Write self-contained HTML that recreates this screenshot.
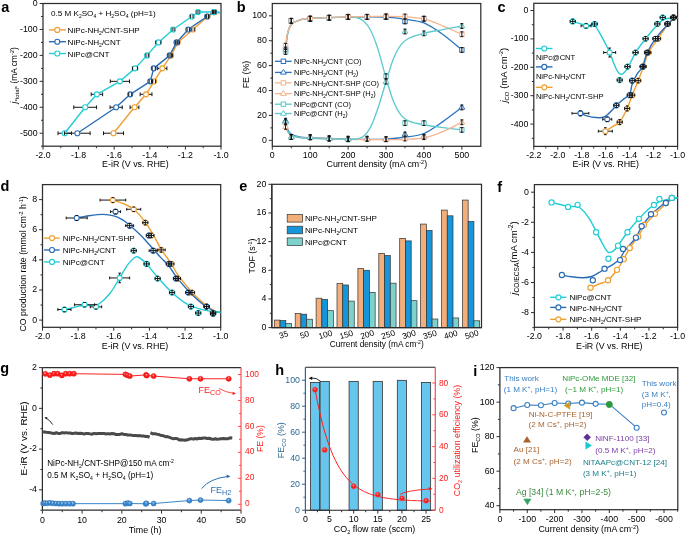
<!DOCTYPE html>
<html><head><meta charset="utf-8"><style>
html,body{margin:0;padding:0;background:#fff;}
svg{display:block;will-change:transform;filter:blur(0.3px);}
text{font-family:"Liberation Sans", sans-serif;}
</style></head><body>
<svg width="685" height="535" viewBox="0 0 685 535">
<rect width="685" height="535" fill="#fff"/>
<text x="1.20" y="12.40" font-size="14.5" text-anchor="start" fill="#000" font-weight="bold">a</text>
<rect x="43.00" y="3.50" width="178.00" height="142.70" fill="none" stroke="#2e2e2e" stroke-width="1.25"/>
<line x1="43.00" y1="146.20" x2="43.00" y2="149.60" stroke="#2e2e2e" stroke-width="1"/>
<line x1="78.60" y1="146.20" x2="78.60" y2="149.60" stroke="#2e2e2e" stroke-width="1"/>
<line x1="114.20" y1="146.20" x2="114.20" y2="149.60" stroke="#2e2e2e" stroke-width="1"/>
<line x1="149.80" y1="146.20" x2="149.80" y2="149.60" stroke="#2e2e2e" stroke-width="1"/>
<line x1="185.40" y1="146.20" x2="185.40" y2="149.60" stroke="#2e2e2e" stroke-width="1"/>
<line x1="221.00" y1="146.20" x2="221.00" y2="149.60" stroke="#2e2e2e" stroke-width="1"/>
<line x1="60.80" y1="146.20" x2="60.80" y2="148.20" stroke="#2e2e2e" stroke-width="1"/>
<line x1="96.40" y1="146.20" x2="96.40" y2="148.20" stroke="#2e2e2e" stroke-width="1"/>
<line x1="132.00" y1="146.20" x2="132.00" y2="148.20" stroke="#2e2e2e" stroke-width="1"/>
<line x1="167.60" y1="146.20" x2="167.60" y2="148.20" stroke="#2e2e2e" stroke-width="1"/>
<line x1="203.20" y1="146.20" x2="203.20" y2="148.20" stroke="#2e2e2e" stroke-width="1"/>
<text x="43.00" y="158.20" font-size="8.8" text-anchor="middle" fill="#000">-2.0</text>
<text x="78.60" y="158.20" font-size="8.8" text-anchor="middle" fill="#000">-1.8</text>
<text x="114.20" y="158.20" font-size="8.8" text-anchor="middle" fill="#000">-1.6</text>
<text x="149.80" y="158.20" font-size="8.8" text-anchor="middle" fill="#000">-1.4</text>
<text x="185.40" y="158.20" font-size="8.8" text-anchor="middle" fill="#000">-1.2</text>
<text x="221.00" y="158.20" font-size="8.8" text-anchor="middle" fill="#000">-1.0</text>
<line x1="43.00" y1="3.50" x2="39.60" y2="3.50" stroke="#2e2e2e" stroke-width="1"/>
<line x1="43.00" y1="29.45" x2="39.60" y2="29.45" stroke="#2e2e2e" stroke-width="1"/>
<line x1="43.00" y1="55.39" x2="39.60" y2="55.39" stroke="#2e2e2e" stroke-width="1"/>
<line x1="43.00" y1="81.34" x2="39.60" y2="81.34" stroke="#2e2e2e" stroke-width="1"/>
<line x1="43.00" y1="107.28" x2="39.60" y2="107.28" stroke="#2e2e2e" stroke-width="1"/>
<line x1="43.00" y1="133.23" x2="39.60" y2="133.23" stroke="#2e2e2e" stroke-width="1"/>
<line x1="43.00" y1="16.47" x2="41.00" y2="16.47" stroke="#2e2e2e" stroke-width="1"/>
<line x1="43.00" y1="42.42" x2="41.00" y2="42.42" stroke="#2e2e2e" stroke-width="1"/>
<line x1="43.00" y1="68.36" x2="41.00" y2="68.36" stroke="#2e2e2e" stroke-width="1"/>
<line x1="43.00" y1="94.31" x2="41.00" y2="94.31" stroke="#2e2e2e" stroke-width="1"/>
<line x1="43.00" y1="120.25" x2="41.00" y2="120.25" stroke="#2e2e2e" stroke-width="1"/>
<line x1="43.00" y1="146.20" x2="41.00" y2="146.20" stroke="#2e2e2e" stroke-width="1"/>
<text x="37.60" y="5.90" font-size="8.8" text-anchor="end" fill="#000">0</text>
<text x="37.60" y="31.85" font-size="8.8" text-anchor="end" fill="#000">-100</text>
<text x="37.60" y="57.79" font-size="8.8" text-anchor="end" fill="#000">-200</text>
<text x="37.60" y="83.74" font-size="8.8" text-anchor="end" fill="#000">-300</text>
<text x="37.60" y="109.68" font-size="8.8" text-anchor="end" fill="#000">-400</text>
<text x="37.60" y="135.63" font-size="8.8" text-anchor="end" fill="#000">-500</text>
<text x="135.40" y="166.90" font-size="8.9" text-anchor="middle" fill="#000">E-iR (V vs. RHE)</text>
<text x="17.40" y="75.30" font-size="8.4" text-anchor="middle" fill="#000" transform="rotate(-90 17.40 75.30)"><tspan font-style="italic">j</tspan><tspan font-size="5.88" dy="1.85">*total*</tspan><tspan dy="-1.85">​</tspan> (mA cm<tspan font-size="5.88" dy="-3.02">-2</tspan><tspan dy="3.02">​</tspan>)</text>
<text x="51.00" y="16.40" font-size="8.1" text-anchor="start" fill="#000">0.5 M K<tspan font-size="5.02" dy="1.78">2</tspan><tspan dy="-1.78">​</tspan>SO<tspan font-size="5.02" dy="1.78">4</tspan><tspan dy="-1.78">​</tspan> + H<tspan font-size="5.02" dy="1.78">2</tspan><tspan dy="-1.78">​</tspan>SO<tspan font-size="5.02" dy="1.78">4</tspan><tspan dy="-1.78">​</tspan> (pH=1)</text>
<line x1="48.90" y1="29.90" x2="65.90" y2="29.90" stroke="#F0A032" stroke-width="1.4"/>
<circle cx="57.30" cy="29.90" r="2.5" fill="white" stroke="#F0A032" stroke-width="1.15"/>
<text x="67.60" y="33.20" font-size="8.1" text-anchor="start" fill="#000">NiPc-NH<tspan font-size="5.02" dy="1.78">2</tspan><tspan dy="-1.78">​</tspan>/CNT-SHP</text>
<line x1="48.90" y1="41.70" x2="65.90" y2="41.70" stroke="#2A6DB5" stroke-width="1.4"/>
<circle cx="57.30" cy="41.70" r="2.5" fill="white" stroke="#2A6DB5" stroke-width="1.15"/>
<text x="67.60" y="45.00" font-size="8.1" text-anchor="start" fill="#000">NiPc-NH<tspan font-size="5.02" dy="1.78">2</tspan><tspan dy="-1.78">​</tspan>/CNT</text>
<line x1="48.90" y1="53.50" x2="65.90" y2="53.50" stroke="#22CDD6" stroke-width="1.4"/>
<circle cx="57.30" cy="53.50" r="2.5" fill="white" stroke="#22CDD6" stroke-width="1.15"/>
<text x="67.60" y="56.80" font-size="8.1" text-anchor="start" fill="#000">NiPc@CNT</text>
<polyline points="113.49,133.23 134.49,107.28 146.06,94.31 154.07,81.34 162.26,68.36 171.16,55.39 177.75,42.42 193.05,29.45 207.47,16.47 214.77,12.06 220.50,12.66" fill="none" stroke="#F0A032" stroke-width="1.4" stroke-linejoin="round"/>
<polyline points="77.35,133.23 116.16,107.28 130.22,94.31 150.33,81.34 153.72,68.36 169.74,55.39 176.50,42.42 188.25,29.45 207.12,16.47 213.88,12.06 220.50,12.66" fill="none" stroke="#2A6DB5" stroke-width="1.4" stroke-linejoin="round"/>
<polyline points="64.72,133.23 85.19,107.28 96.93,94.31 119.90,81.34 135.03,68.36 147.13,55.39 158.34,42.42 173.12,29.45 191.81,16.47 198.04,12.06 213.88,12.06 220.50,12.66" fill="none" stroke="#22CDD6" stroke-width="1.4" stroke-linejoin="round"/>
<circle cx="113.49" cy="133.23" r="2.5" fill="white" stroke="#F0A032" stroke-width="1.15"/>
<circle cx="134.49" cy="107.28" r="2.5" fill="white" stroke="#F0A032" stroke-width="1.15"/>
<circle cx="146.06" cy="94.31" r="2.5" fill="white" stroke="#F0A032" stroke-width="1.15"/>
<circle cx="154.07" cy="81.34" r="2.5" fill="white" stroke="#F0A032" stroke-width="1.15"/>
<circle cx="162.26" cy="68.36" r="2.5" fill="white" stroke="#F0A032" stroke-width="1.15"/>
<circle cx="171.16" cy="55.39" r="2.5" fill="white" stroke="#F0A032" stroke-width="1.15"/>
<circle cx="177.75" cy="42.42" r="2.5" fill="white" stroke="#F0A032" stroke-width="1.15"/>
<circle cx="193.05" cy="29.45" r="2.5" fill="white" stroke="#F0A032" stroke-width="1.15"/>
<circle cx="207.47" cy="16.47" r="2.5" fill="white" stroke="#F0A032" stroke-width="1.15"/>
<circle cx="214.77" cy="12.06" r="2.5" fill="white" stroke="#F0A032" stroke-width="1.15"/>
<circle cx="77.35" cy="133.23" r="2.5" fill="white" stroke="#2A6DB5" stroke-width="1.15"/>
<circle cx="116.16" cy="107.28" r="2.5" fill="white" stroke="#2A6DB5" stroke-width="1.15"/>
<circle cx="130.22" cy="94.31" r="2.5" fill="white" stroke="#2A6DB5" stroke-width="1.15"/>
<circle cx="150.33" cy="81.34" r="2.5" fill="white" stroke="#2A6DB5" stroke-width="1.15"/>
<circle cx="153.72" cy="68.36" r="2.5" fill="white" stroke="#2A6DB5" stroke-width="1.15"/>
<circle cx="169.74" cy="55.39" r="2.5" fill="white" stroke="#2A6DB5" stroke-width="1.15"/>
<circle cx="176.50" cy="42.42" r="2.5" fill="white" stroke="#2A6DB5" stroke-width="1.15"/>
<circle cx="188.25" cy="29.45" r="2.5" fill="white" stroke="#2A6DB5" stroke-width="1.15"/>
<circle cx="207.12" cy="16.47" r="2.5" fill="white" stroke="#2A6DB5" stroke-width="1.15"/>
<circle cx="213.88" cy="12.06" r="2.5" fill="white" stroke="#2A6DB5" stroke-width="1.15"/>
<circle cx="64.72" cy="133.23" r="2.5" fill="white" stroke="#22CDD6" stroke-width="1.15"/>
<circle cx="85.19" cy="107.28" r="2.5" fill="white" stroke="#22CDD6" stroke-width="1.15"/>
<circle cx="96.93" cy="94.31" r="2.5" fill="white" stroke="#22CDD6" stroke-width="1.15"/>
<circle cx="119.90" cy="81.34" r="2.5" fill="white" stroke="#22CDD6" stroke-width="1.15"/>
<circle cx="135.03" cy="68.36" r="2.5" fill="white" stroke="#22CDD6" stroke-width="1.15"/>
<circle cx="147.13" cy="55.39" r="2.5" fill="white" stroke="#22CDD6" stroke-width="1.15"/>
<circle cx="158.34" cy="42.42" r="2.5" fill="white" stroke="#22CDD6" stroke-width="1.15"/>
<circle cx="173.12" cy="29.45" r="2.5" fill="white" stroke="#22CDD6" stroke-width="1.15"/>
<circle cx="191.81" cy="16.47" r="2.5" fill="white" stroke="#22CDD6" stroke-width="1.15"/>
<circle cx="198.04" cy="12.06" r="2.5" fill="white" stroke="#22CDD6" stroke-width="1.15"/>
<circle cx="213.88" cy="12.06" r="2.5" fill="white" stroke="#22CDD6" stroke-width="1.15"/>
<path d="M103.49,131.33V135.13M123.49,131.33V135.13M103.49,133.23H110.49M116.49,133.23H123.49" stroke="#151515" stroke-width="1.0" fill="none"/>
<path d="M130.09,105.38V109.18M138.89,105.38V109.18M130.09,107.28H131.49M137.49,107.28H138.89" stroke="#151515" stroke-width="1.0" fill="none"/>
<path d="M140.16,92.41V96.21M151.96,92.41V96.21M140.16,94.31H143.06M149.06,94.31H151.96" stroke="#151515" stroke-width="1.0" fill="none"/>
<path d="M152.57,79.44V83.24M155.57,79.44V83.24" stroke="#151515" stroke-width="1.0" fill="none"/>
<path d="M157.66,66.46V70.26M166.86,66.46V70.26M157.66,68.36H159.26M165.26,68.36H166.86" stroke="#151515" stroke-width="1.0" fill="none"/>
<path d="M169.96,53.49V57.29M172.36,53.49V57.29" stroke="#151515" stroke-width="1.0" fill="none"/>
<path d="M176.15,40.52V44.32M179.35,40.52V44.32" stroke="#151515" stroke-width="1.0" fill="none"/>
<path d="M191.85,27.55V31.35M194.25,27.55V31.35" stroke="#151515" stroke-width="1.0" fill="none"/>
<path d="M206.27,14.57V18.37M208.67,14.57V18.37" stroke="#151515" stroke-width="1.0" fill="none"/>
<path d="M213.57,10.16V13.96M215.97,10.16V13.96" stroke="#151515" stroke-width="1.0" fill="none"/>
<path d="M64.55,131.33V135.13M90.15,131.33V135.13M64.55,133.23H74.35M80.35,133.23H90.15" stroke="#151515" stroke-width="1.0" fill="none"/>
<path d="M110.06,105.38V109.18M122.26,105.38V109.18M110.06,107.28H113.16M119.16,107.28H122.26" stroke="#151515" stroke-width="1.0" fill="none"/>
<path d="M128.72,92.41V96.21M131.72,92.41V96.21" stroke="#151515" stroke-width="1.0" fill="none"/>
<path d="M149.13,79.44V83.24M151.53,79.44V83.24" stroke="#151515" stroke-width="1.0" fill="none"/>
<path d="M152.12,66.46V70.26M155.32,66.46V70.26" stroke="#151515" stroke-width="1.0" fill="none"/>
<path d="M168.14,53.49V57.29M171.34,53.49V57.29" stroke="#151515" stroke-width="1.0" fill="none"/>
<path d="M175.30,40.52V44.32M177.70,40.52V44.32" stroke="#151515" stroke-width="1.0" fill="none"/>
<path d="M187.05,27.55V31.35M189.45,27.55V31.35" stroke="#151515" stroke-width="1.0" fill="none"/>
<path d="M205.92,14.57V18.37M208.32,14.57V18.37" stroke="#151515" stroke-width="1.0" fill="none"/>
<path d="M212.68,10.16V13.96M215.08,10.16V13.96" stroke="#151515" stroke-width="1.0" fill="none"/>
<path d="M58.02,131.33V135.13M71.42,131.33V135.13M58.02,133.23H61.72M67.72,133.23H71.42" stroke="#151515" stroke-width="1.0" fill="none"/>
<path d="M73.79,105.38V109.18M96.59,105.38V109.18M73.79,107.28H82.19M88.19,107.28H96.59" stroke="#151515" stroke-width="1.0" fill="none"/>
<path d="M91.23,92.41V96.21M102.63,92.41V96.21M91.23,94.31H93.93M99.93,94.31H102.63" stroke="#151515" stroke-width="1.0" fill="none"/>
<path d="M110.30,79.44V83.24M129.50,79.44V83.24M110.30,81.34H116.90M122.90,81.34H129.50" stroke="#151515" stroke-width="1.0" fill="none"/>
<path d="M132.43,66.46V70.26M137.63,66.46V70.26" stroke="#151515" stroke-width="1.0" fill="none"/>
<path d="M145.93,53.49V57.29M148.33,53.49V57.29" stroke="#151515" stroke-width="1.0" fill="none"/>
<path d="M155.74,40.52V44.32M160.94,40.52V44.32" stroke="#151515" stroke-width="1.0" fill="none"/>
<path d="M172.12,27.55V31.35M174.12,27.55V31.35" stroke="#151515" stroke-width="1.0" fill="none"/>
<path d="M190.61,14.57V18.37M193.01,14.57V18.37" stroke="#151515" stroke-width="1.0" fill="none"/>
<path d="M197.04,10.16V13.96M199.04,10.16V13.96" stroke="#151515" stroke-width="1.0" fill="none"/>
<path d="M212.68,10.16V13.96M215.08,10.16V13.96" stroke="#151515" stroke-width="1.0" fill="none"/>
<text x="236.70" y="12.20" font-size="14.5" text-anchor="start" fill="#000" font-weight="bold">b</text>
<rect x="272.30" y="3.50" width="208.50" height="142.80" fill="none" stroke="#2e2e2e" stroke-width="1.25"/>
<line x1="272.30" y1="146.30" x2="272.30" y2="149.70" stroke="#2e2e2e" stroke-width="1"/>
<line x1="310.21" y1="146.30" x2="310.21" y2="149.70" stroke="#2e2e2e" stroke-width="1"/>
<line x1="348.12" y1="146.30" x2="348.12" y2="149.70" stroke="#2e2e2e" stroke-width="1"/>
<line x1="386.03" y1="146.30" x2="386.03" y2="149.70" stroke="#2e2e2e" stroke-width="1"/>
<line x1="423.94" y1="146.30" x2="423.94" y2="149.70" stroke="#2e2e2e" stroke-width="1"/>
<line x1="461.85" y1="146.30" x2="461.85" y2="149.70" stroke="#2e2e2e" stroke-width="1"/>
<line x1="291.25" y1="146.30" x2="291.25" y2="148.30" stroke="#2e2e2e" stroke-width="1"/>
<line x1="329.16" y1="146.30" x2="329.16" y2="148.30" stroke="#2e2e2e" stroke-width="1"/>
<line x1="367.07" y1="146.30" x2="367.07" y2="148.30" stroke="#2e2e2e" stroke-width="1"/>
<line x1="404.98" y1="146.30" x2="404.98" y2="148.30" stroke="#2e2e2e" stroke-width="1"/>
<line x1="442.89" y1="146.30" x2="442.89" y2="148.30" stroke="#2e2e2e" stroke-width="1"/>
<text x="272.30" y="158.30" font-size="8.8" text-anchor="middle" fill="#000">0</text>
<text x="310.21" y="158.30" font-size="8.8" text-anchor="middle" fill="#000">100</text>
<text x="348.12" y="158.30" font-size="8.8" text-anchor="middle" fill="#000">200</text>
<text x="386.03" y="158.30" font-size="8.8" text-anchor="middle" fill="#000">300</text>
<text x="423.94" y="158.30" font-size="8.8" text-anchor="middle" fill="#000">400</text>
<text x="461.85" y="158.30" font-size="8.8" text-anchor="middle" fill="#000">500</text>
<line x1="272.30" y1="140.32" x2="268.90" y2="140.32" stroke="#2e2e2e" stroke-width="1"/>
<line x1="272.30" y1="115.42" x2="268.90" y2="115.42" stroke="#2e2e2e" stroke-width="1"/>
<line x1="272.30" y1="90.52" x2="268.90" y2="90.52" stroke="#2e2e2e" stroke-width="1"/>
<line x1="272.30" y1="65.62" x2="268.90" y2="65.62" stroke="#2e2e2e" stroke-width="1"/>
<line x1="272.30" y1="40.73" x2="268.90" y2="40.73" stroke="#2e2e2e" stroke-width="1"/>
<line x1="272.30" y1="15.83" x2="268.90" y2="15.83" stroke="#2e2e2e" stroke-width="1"/>
<line x1="272.30" y1="127.87" x2="270.30" y2="127.87" stroke="#2e2e2e" stroke-width="1"/>
<line x1="272.30" y1="102.97" x2="270.30" y2="102.97" stroke="#2e2e2e" stroke-width="1"/>
<line x1="272.30" y1="78.07" x2="270.30" y2="78.07" stroke="#2e2e2e" stroke-width="1"/>
<line x1="272.30" y1="53.17" x2="270.30" y2="53.17" stroke="#2e2e2e" stroke-width="1"/>
<line x1="272.30" y1="28.28" x2="270.30" y2="28.28" stroke="#2e2e2e" stroke-width="1"/>
<text x="266.90" y="142.72" font-size="8.8" text-anchor="end" fill="#000">0</text>
<text x="266.90" y="117.82" font-size="8.8" text-anchor="end" fill="#000">20</text>
<text x="266.90" y="92.92" font-size="8.8" text-anchor="end" fill="#000">40</text>
<text x="266.90" y="68.02" font-size="8.8" text-anchor="end" fill="#000">60</text>
<text x="266.90" y="43.13" font-size="8.8" text-anchor="end" fill="#000">80</text>
<text x="266.90" y="18.23" font-size="8.8" text-anchor="end" fill="#000">100</text>
<text x="376.80" y="166.90" font-size="8.9" text-anchor="middle" fill="#000">Current density (mA cm<tspan font-size="5.52" dy="-3.20">-2</tspan><tspan dy="3.20">​</tspan>)</text>
<text x="249.20" y="74.50" font-size="8.9" text-anchor="middle" fill="#000" transform="rotate(-90 249.20 74.50)">FE (%)</text>
<path d="M285.57,50.69 C285.88,47.99 286.52,38.86 287.46,34.50 C288.41,30.14 289.04,27.03 291.25,24.54 C293.47,22.05 297.57,20.60 300.73,19.56 C303.89,18.52 305.47,18.65 310.21,18.32 C314.95,17.98 322.85,17.78 329.16,17.57 C335.48,17.36 341.80,17.19 348.12,17.07 C354.44,16.95 360.75,16.82 367.07,16.82 C373.39,16.82 379.71,16.68 386.03,17.07 C392.35,17.46 398.66,18.21 404.98,19.19 C411.30,20.16 417.62,20.37 423.94,22.92 C430.25,25.47 436.57,30.00 442.89,34.50 C449.21,39.00 458.69,47.37 461.85,49.94" fill="none" stroke="#2B73BE" stroke-width="1.3"/>
<path d="M285.57,120.78 C285.88,122.17 286.52,126.90 287.46,129.12 C288.41,131.34 289.04,132.75 291.25,134.10 C293.47,135.45 297.57,136.59 300.73,137.21 C303.89,137.83 305.47,137.63 310.21,137.83 C314.95,138.04 322.85,138.25 329.16,138.46 C335.48,138.66 341.80,138.93 348.12,139.08 C354.44,139.22 360.75,139.33 367.07,139.33 C373.39,139.33 379.71,139.43 386.03,139.08 C392.35,138.73 398.66,138.15 404.98,137.21 C411.30,136.28 417.62,136.07 423.94,133.48 C430.25,130.88 436.57,125.99 442.89,121.65 C449.21,117.31 458.69,109.82 461.85,107.46" fill="none" stroke="#2B73BE" stroke-width="1.3"/>
<path d="M285.57,51.93 C285.88,49.03 286.52,39.07 287.46,34.50 C288.41,29.94 289.04,27.03 291.25,24.54 C293.47,22.05 297.57,20.60 300.73,19.56 C303.89,18.52 305.47,18.63 310.21,18.32 C314.95,18.00 322.85,17.90 329.16,17.69 C335.48,17.49 343.70,17.13 348.12,17.07 C352.54,17.01 353.17,16.70 355.70,17.32 C358.23,17.94 360.75,18.56 363.28,20.81 C365.81,23.05 368.34,25.79 370.86,30.77 C373.39,35.75 375.92,42.80 378.45,50.69 C380.97,58.57 383.50,69.57 386.03,78.07 C388.55,86.58 391.08,95.50 393.61,101.73 C396.14,107.95 398.66,112.21 401.19,115.42 C403.72,118.64 404.98,119.47 408.77,121.03 C412.56,122.58 418.25,123.66 423.94,124.76 C429.62,125.86 436.57,126.77 442.89,127.63 C449.21,128.48 458.69,129.49 461.85,129.87" fill="none" stroke="#5CC9CC" stroke-width="1.3"/>
<path d="M285.57,45.71 C285.88,43.63 286.52,36.78 287.46,33.26 C288.41,29.73 289.04,26.82 291.25,24.54 C293.47,22.26 297.57,20.60 300.73,19.56 C303.89,18.52 305.47,18.67 310.21,18.32 C314.95,17.96 322.85,17.69 329.16,17.44 C335.48,17.19 341.80,16.97 348.12,16.82 C354.44,16.68 360.75,16.66 367.07,16.57 C373.39,16.49 379.71,16.30 386.03,16.32 C392.35,16.34 398.66,16.26 404.98,16.70 C411.30,17.13 417.62,17.42 423.94,18.94 C430.25,20.45 436.57,23.19 442.89,25.79 C449.21,28.38 458.69,33.05 461.85,34.50" fill="none" stroke="#F5B48E" stroke-width="1.3"/>
<path d="M285.57,126.63 C285.88,127.46 286.52,130.16 287.46,131.61 C288.41,133.06 289.04,134.35 291.25,135.34 C293.47,136.34 297.57,137.13 300.73,137.59 C303.89,138.04 305.47,137.90 310.21,138.08 C314.95,138.27 322.85,138.50 329.16,138.71 C335.48,138.91 341.80,139.18 348.12,139.33 C354.44,139.47 360.75,139.51 367.07,139.58 C373.39,139.64 379.71,139.74 386.03,139.70 C392.35,139.66 398.66,139.64 404.98,139.33 C411.30,139.02 417.62,139.12 423.94,137.83 C430.25,136.55 436.57,134.20 442.89,131.61 C449.21,129.02 458.69,123.83 461.85,122.27" fill="none" stroke="#F5B48E" stroke-width="1.3"/>
<path d="M285.57,121.65 C285.88,123.10 286.52,128.08 287.46,130.36 C288.41,132.65 289.04,134.10 291.25,135.34 C293.47,136.59 297.57,137.32 300.73,137.83 C303.89,138.35 305.47,138.25 310.21,138.46 C314.95,138.66 322.85,138.93 329.16,139.08 C335.48,139.22 343.70,139.33 348.12,139.33 C352.54,139.33 353.17,139.54 355.70,139.08 C358.23,138.62 360.75,138.66 363.28,136.59 C365.81,134.51 368.34,131.61 370.86,126.63 C373.39,121.65 375.92,114.18 378.45,106.71 C380.97,99.24 383.50,89.90 386.03,81.81 C388.55,73.72 391.08,64.38 393.61,58.15 C396.14,51.93 398.66,47.78 401.19,44.46 C403.72,41.14 404.98,40.10 408.77,38.24 C412.56,36.37 418.25,34.71 423.94,33.26 C429.62,31.80 436.57,30.72 442.89,29.52 C449.21,28.32 458.69,26.62 461.85,26.03" fill="none" stroke="#5CC9CC" stroke-width="1.3"/>
<rect x="283.37" y="47.24" width="4.40" height="4.40" fill="white" stroke="#2B73BE" stroke-width="1.0"/>
<rect x="289.05" y="18.61" width="4.40" height="4.40" fill="white" stroke="#2B73BE" stroke-width="1.0"/>
<rect x="308.01" y="16.74" width="4.40" height="4.40" fill="white" stroke="#2B73BE" stroke-width="1.0"/>
<rect x="326.96" y="15.49" width="4.40" height="4.40" fill="white" stroke="#2B73BE" stroke-width="1.0"/>
<rect x="345.92" y="14.87" width="4.40" height="4.40" fill="white" stroke="#2B73BE" stroke-width="1.0"/>
<rect x="364.87" y="14.87" width="4.40" height="4.40" fill="white" stroke="#2B73BE" stroke-width="1.0"/>
<rect x="383.83" y="14.87" width="4.40" height="4.40" fill="white" stroke="#2B73BE" stroke-width="1.0"/>
<rect x="402.78" y="19.23" width="4.40" height="4.40" fill="white" stroke="#2B73BE" stroke-width="1.0"/>
<rect x="421.74" y="16.49" width="4.40" height="4.40" fill="white" stroke="#2B73BE" stroke-width="1.0"/>
<rect x="459.65" y="47.74" width="4.40" height="4.40" fill="white" stroke="#2B73BE" stroke-width="1.0"/>
<polygon points="285.57,117.78 288.54,122.50 282.60,122.50" fill="white" stroke="#2B73BE" stroke-width="1.0" stroke-linejoin="miter"/>
<polygon points="291.25,134.09 294.22,138.81 288.28,138.81" fill="white" stroke="#2B73BE" stroke-width="1.0" stroke-linejoin="miter"/>
<polygon points="310.21,134.09 313.18,138.81 307.24,138.81" fill="white" stroke="#2B73BE" stroke-width="1.0" stroke-linejoin="miter"/>
<polygon points="329.16,135.21 332.13,139.93 326.19,139.93" fill="white" stroke="#2B73BE" stroke-width="1.0" stroke-linejoin="miter"/>
<polygon points="348.12,135.71 351.09,140.43 345.15,140.43" fill="white" stroke="#2B73BE" stroke-width="1.0" stroke-linejoin="miter"/>
<polygon points="367.07,135.71 370.04,140.43 364.10,140.43" fill="white" stroke="#2B73BE" stroke-width="1.0" stroke-linejoin="miter"/>
<polygon points="386.03,136.08 389.00,140.80 383.06,140.80" fill="white" stroke="#2B73BE" stroke-width="1.0" stroke-linejoin="miter"/>
<polygon points="404.98,131.47 407.95,136.20 402.01,136.20" fill="white" stroke="#2B73BE" stroke-width="1.0" stroke-linejoin="miter"/>
<polygon points="423.94,133.71 426.91,138.44 420.97,138.44" fill="white" stroke="#2B73BE" stroke-width="1.0" stroke-linejoin="miter"/>
<polygon points="461.85,104.46 464.82,109.18 458.88,109.18" fill="white" stroke="#2B73BE" stroke-width="1.0" stroke-linejoin="miter"/>
<rect x="283.37" y="49.73" width="4.40" height="4.40" fill="white" stroke="#5CC9CC" stroke-width="1.0"/>
<rect x="289.05" y="18.61" width="4.40" height="4.40" fill="white" stroke="#5CC9CC" stroke-width="1.0"/>
<rect x="308.01" y="16.74" width="4.40" height="4.40" fill="white" stroke="#5CC9CC" stroke-width="1.0"/>
<rect x="326.96" y="15.74" width="4.40" height="4.40" fill="white" stroke="#5CC9CC" stroke-width="1.0"/>
<rect x="345.92" y="14.87" width="4.40" height="4.40" fill="white" stroke="#5CC9CC" stroke-width="1.0"/>
<rect x="383.83" y="74.01" width="4.40" height="4.40" fill="white" stroke="#5CC9CC" stroke-width="1.0"/>
<rect x="402.78" y="120.94" width="4.40" height="4.40" fill="white" stroke="#5CC9CC" stroke-width="1.0"/>
<rect x="421.74" y="120.94" width="4.40" height="4.40" fill="white" stroke="#5CC9CC" stroke-width="1.0"/>
<rect x="459.65" y="127.67" width="4.40" height="4.40" fill="white" stroke="#5CC9CC" stroke-width="1.0"/>
<rect x="283.37" y="43.51" width="4.40" height="4.40" fill="white" stroke="#F5B48E" stroke-width="1.0"/>
<rect x="289.05" y="18.61" width="4.40" height="4.40" fill="white" stroke="#F5B48E" stroke-width="1.0"/>
<rect x="308.01" y="16.12" width="4.40" height="4.40" fill="white" stroke="#F5B48E" stroke-width="1.0"/>
<rect x="326.96" y="15.37" width="4.40" height="4.40" fill="white" stroke="#F5B48E" stroke-width="1.0"/>
<rect x="345.92" y="14.50" width="4.40" height="4.40" fill="white" stroke="#F5B48E" stroke-width="1.0"/>
<rect x="364.87" y="14.50" width="4.40" height="4.40" fill="white" stroke="#F5B48E" stroke-width="1.0"/>
<rect x="383.83" y="14.00" width="4.40" height="4.40" fill="white" stroke="#F5B48E" stroke-width="1.0"/>
<rect x="402.78" y="14.25" width="4.40" height="4.40" fill="white" stroke="#F5B48E" stroke-width="1.0"/>
<rect x="421.74" y="16.49" width="4.40" height="4.40" fill="white" stroke="#F5B48E" stroke-width="1.0"/>
<rect x="459.65" y="32.05" width="4.40" height="4.40" fill="white" stroke="#F5B48E" stroke-width="1.0"/>
<polygon points="285.57,123.88 288.54,128.60 282.60,128.60" fill="white" stroke="#F5B48E" stroke-width="1.0" stroke-linejoin="miter"/>
<polygon points="291.25,134.09 294.22,138.81 288.28,138.81" fill="white" stroke="#F5B48E" stroke-width="1.0" stroke-linejoin="miter"/>
<polygon points="310.21,134.34 313.18,139.06 307.24,139.06" fill="white" stroke="#F5B48E" stroke-width="1.0" stroke-linejoin="miter"/>
<polygon points="329.16,135.46 332.13,140.18 326.19,140.18" fill="white" stroke="#F5B48E" stroke-width="1.0" stroke-linejoin="miter"/>
<polygon points="348.12,136.08 351.09,140.80 345.15,140.80" fill="white" stroke="#F5B48E" stroke-width="1.0" stroke-linejoin="miter"/>
<polygon points="367.07,136.08 370.04,140.80 364.10,140.80" fill="white" stroke="#F5B48E" stroke-width="1.0" stroke-linejoin="miter"/>
<polygon points="386.03,136.33 389.00,141.05 383.06,141.05" fill="white" stroke="#F5B48E" stroke-width="1.0" stroke-linejoin="miter"/>
<polygon points="404.98,135.58 407.95,140.31 402.01,140.31" fill="white" stroke="#F5B48E" stroke-width="1.0" stroke-linejoin="miter"/>
<polygon points="423.94,134.21 426.91,138.94 420.97,138.94" fill="white" stroke="#F5B48E" stroke-width="1.0" stroke-linejoin="miter"/>
<polygon points="461.85,119.27 464.82,124.00 458.88,124.00" fill="white" stroke="#F5B48E" stroke-width="1.0" stroke-linejoin="miter"/>
<polygon points="285.57,119.27 288.54,124.00 282.60,124.00" fill="white" stroke="#5CC9CC" stroke-width="1.0" stroke-linejoin="miter"/>
<polygon points="291.25,134.09 294.22,138.81 288.28,138.81" fill="white" stroke="#5CC9CC" stroke-width="1.0" stroke-linejoin="miter"/>
<polygon points="310.21,134.34 313.18,139.06 307.24,139.06" fill="white" stroke="#5CC9CC" stroke-width="1.0" stroke-linejoin="miter"/>
<polygon points="329.16,135.83 332.13,140.56 326.19,140.56" fill="white" stroke="#5CC9CC" stroke-width="1.0" stroke-linejoin="miter"/>
<polygon points="348.12,136.33 351.09,141.05 345.15,141.05" fill="white" stroke="#5CC9CC" stroke-width="1.0" stroke-linejoin="miter"/>
<polygon points="386.03,78.69 389.00,83.41 383.06,83.41" fill="white" stroke="#5CC9CC" stroke-width="1.0" stroke-linejoin="miter"/>
<polygon points="404.98,28.51 407.95,33.24 402.01,33.24" fill="white" stroke="#5CC9CC" stroke-width="1.0" stroke-linejoin="miter"/>
<polygon points="423.94,30.38 426.91,35.10 420.97,35.10" fill="white" stroke="#5CC9CC" stroke-width="1.0" stroke-linejoin="miter"/>
<polygon points="461.85,23.03 464.82,27.76 458.88,27.76" fill="white" stroke="#5CC9CC" stroke-width="1.0" stroke-linejoin="miter"/>
<path d="M284.07,47.04H287.07M284.07,51.84H287.07M285.57,47.04V51.84" stroke="#151515" stroke-width="1.0" fill="none"/>
<path d="M289.75,18.41H292.75M289.75,23.21H292.75M291.25,18.41V23.21" stroke="#151515" stroke-width="1.0" fill="none"/>
<path d="M308.71,16.54H311.71M308.71,21.34H311.71M310.21,16.54V21.34" stroke="#151515" stroke-width="1.0" fill="none"/>
<path d="M327.66,15.29H330.66M327.66,20.09H330.66M329.16,15.29V20.09" stroke="#151515" stroke-width="1.0" fill="none"/>
<path d="M346.62,14.67H349.62M346.62,19.47H349.62M348.12,14.67V19.47" stroke="#151515" stroke-width="1.0" fill="none"/>
<path d="M365.57,14.67H368.57M365.57,19.47H368.57M367.07,14.67V19.47" stroke="#151515" stroke-width="1.0" fill="none"/>
<path d="M384.53,14.67H387.53M384.53,19.47H387.53M386.03,14.67V19.47" stroke="#151515" stroke-width="1.0" fill="none"/>
<path d="M403.48,19.03H406.48M403.48,23.83H406.48M404.98,19.03V23.83" stroke="#151515" stroke-width="1.0" fill="none"/>
<path d="M422.44,16.29H425.44M422.44,21.09H425.44M423.94,16.29V21.09" stroke="#151515" stroke-width="1.0" fill="none"/>
<path d="M460.35,47.54H463.35M460.35,52.34H463.35M461.85,47.54V52.34" stroke="#151515" stroke-width="1.0" fill="none"/>
<path d="M284.07,118.38H287.07M284.07,123.18H287.07M285.57,118.38V123.18" stroke="#151515" stroke-width="1.0" fill="none"/>
<path d="M289.75,134.69H292.75M289.75,139.49H292.75M291.25,134.69V139.49" stroke="#151515" stroke-width="1.0" fill="none"/>
<path d="M308.71,134.69H311.71M308.71,139.49H311.71M310.21,134.69V139.49" stroke="#151515" stroke-width="1.0" fill="none"/>
<path d="M327.66,135.81H330.66M327.66,140.61H330.66M329.16,135.81V140.61" stroke="#151515" stroke-width="1.0" fill="none"/>
<path d="M346.62,136.31H349.62M346.62,141.11H349.62M348.12,136.31V141.11" stroke="#151515" stroke-width="1.0" fill="none"/>
<path d="M365.57,136.31H368.57M365.57,141.11H368.57M367.07,136.31V141.11" stroke="#151515" stroke-width="1.0" fill="none"/>
<path d="M384.53,136.68H387.53M384.53,141.48H387.53M386.03,136.68V141.48" stroke="#151515" stroke-width="1.0" fill="none"/>
<path d="M403.48,132.07H406.48M403.48,136.87H406.48M404.98,132.07V136.87" stroke="#151515" stroke-width="1.0" fill="none"/>
<path d="M422.44,134.31H425.44M422.44,139.11H425.44M423.94,134.31V139.11" stroke="#151515" stroke-width="1.0" fill="none"/>
<path d="M460.35,105.06H463.35M460.35,109.86H463.35M461.85,105.06V109.86" stroke="#151515" stroke-width="1.0" fill="none"/>
<path d="M284.07,49.53H287.07M284.07,54.33H287.07M285.57,49.53V54.33" stroke="#151515" stroke-width="1.0" fill="none"/>
<path d="M289.75,18.41H292.75M289.75,23.21H292.75M291.25,18.41V23.21" stroke="#151515" stroke-width="1.0" fill="none"/>
<path d="M308.71,16.54H311.71M308.71,21.34H311.71M310.21,16.54V21.34" stroke="#151515" stroke-width="1.0" fill="none"/>
<path d="M327.66,15.54H330.66M327.66,20.34H330.66M329.16,15.54V20.34" stroke="#151515" stroke-width="1.0" fill="none"/>
<path d="M346.62,14.67H349.62M346.62,19.47H349.62M348.12,14.67V19.47" stroke="#151515" stroke-width="1.0" fill="none"/>
<path d="M384.53,73.81H387.53M384.53,78.61H387.53M386.03,73.81V78.61" stroke="#151515" stroke-width="1.0" fill="none"/>
<path d="M403.48,120.74H406.48M403.48,125.54H406.48M404.98,120.74V125.54" stroke="#151515" stroke-width="1.0" fill="none"/>
<path d="M422.44,120.74H425.44M422.44,125.54H425.44M423.94,120.74V125.54" stroke="#151515" stroke-width="1.0" fill="none"/>
<path d="M460.35,127.47H463.35M460.35,132.27H463.35M461.85,127.47V132.27" stroke="#151515" stroke-width="1.0" fill="none"/>
<path d="M284.07,43.31H287.07M284.07,48.11H287.07M285.57,43.31V48.11" stroke="#151515" stroke-width="1.0" fill="none"/>
<path d="M289.75,18.41H292.75M289.75,23.21H292.75M291.25,18.41V23.21" stroke="#151515" stroke-width="1.0" fill="none"/>
<path d="M308.71,15.92H311.71M308.71,20.72H311.71M310.21,15.92V20.72" stroke="#151515" stroke-width="1.0" fill="none"/>
<path d="M327.66,15.17H330.66M327.66,19.97H330.66M329.16,15.17V19.97" stroke="#151515" stroke-width="1.0" fill="none"/>
<path d="M346.62,14.30H349.62M346.62,19.10H349.62M348.12,14.30V19.10" stroke="#151515" stroke-width="1.0" fill="none"/>
<path d="M365.57,14.30H368.57M365.57,19.10H368.57M367.07,14.30V19.10" stroke="#151515" stroke-width="1.0" fill="none"/>
<path d="M384.53,13.80H387.53M384.53,18.60H387.53M386.03,13.80V18.60" stroke="#151515" stroke-width="1.0" fill="none"/>
<path d="M403.48,14.05H406.48M403.48,18.85H406.48M404.98,14.05V18.85" stroke="#151515" stroke-width="1.0" fill="none"/>
<path d="M422.44,16.29H425.44M422.44,21.09H425.44M423.94,16.29V21.09" stroke="#151515" stroke-width="1.0" fill="none"/>
<path d="M460.35,31.85H463.35M460.35,36.65H463.35M461.85,31.85V36.65" stroke="#151515" stroke-width="1.0" fill="none"/>
<path d="M284.07,124.48H287.07M284.07,129.28H287.07M285.57,124.48V129.28" stroke="#151515" stroke-width="1.0" fill="none"/>
<path d="M289.75,134.69H292.75M289.75,139.49H292.75M291.25,134.69V139.49" stroke="#151515" stroke-width="1.0" fill="none"/>
<path d="M308.71,134.94H311.71M308.71,139.74H311.71M310.21,134.94V139.74" stroke="#151515" stroke-width="1.0" fill="none"/>
<path d="M327.66,136.06H330.66M327.66,140.86H330.66M329.16,136.06V140.86" stroke="#151515" stroke-width="1.0" fill="none"/>
<path d="M346.62,136.68H349.62M346.62,141.48H349.62M348.12,136.68V141.48" stroke="#151515" stroke-width="1.0" fill="none"/>
<path d="M365.57,136.68H368.57M365.57,141.48H368.57M367.07,136.68V141.48" stroke="#151515" stroke-width="1.0" fill="none"/>
<path d="M384.53,136.93H387.53M384.53,141.73H387.53M386.03,136.93V141.73" stroke="#151515" stroke-width="1.0" fill="none"/>
<path d="M403.48,136.18H406.48M403.48,140.98H406.48M404.98,136.18V140.98" stroke="#151515" stroke-width="1.0" fill="none"/>
<path d="M422.44,134.81H425.44M422.44,139.61H425.44M423.94,134.81V139.61" stroke="#151515" stroke-width="1.0" fill="none"/>
<path d="M460.35,119.87H463.35M460.35,124.67H463.35M461.85,119.87V124.67" stroke="#151515" stroke-width="1.0" fill="none"/>
<path d="M284.07,119.87H287.07M284.07,124.67H287.07M285.57,119.87V124.67" stroke="#151515" stroke-width="1.0" fill="none"/>
<path d="M289.75,134.69H292.75M289.75,139.49H292.75M291.25,134.69V139.49" stroke="#151515" stroke-width="1.0" fill="none"/>
<path d="M308.71,134.94H311.71M308.71,139.74H311.71M310.21,134.94V139.74" stroke="#151515" stroke-width="1.0" fill="none"/>
<path d="M327.66,136.43H330.66M327.66,141.23H330.66M329.16,136.43V141.23" stroke="#151515" stroke-width="1.0" fill="none"/>
<path d="M346.62,136.93H349.62M346.62,141.73H349.62M348.12,136.93V141.73" stroke="#151515" stroke-width="1.0" fill="none"/>
<path d="M384.53,79.29H387.53M384.53,84.09H387.53M386.03,79.29V84.09" stroke="#151515" stroke-width="1.0" fill="none"/>
<path d="M403.48,29.11H406.48M403.48,33.91H406.48M404.98,29.11V33.91" stroke="#151515" stroke-width="1.0" fill="none"/>
<path d="M422.44,30.98H425.44M422.44,35.78H425.44M423.94,30.98V35.78" stroke="#151515" stroke-width="1.0" fill="none"/>
<path d="M460.35,23.63H463.35M460.35,28.43H463.35M461.85,23.63V28.43" stroke="#151515" stroke-width="1.0" fill="none"/>
<line x1="275.00" y1="61.30" x2="291.70" y2="61.30" stroke="#2B73BE" stroke-width="1.3"/>
<rect x="281.20" y="59.10" width="4.40" height="4.40" fill="white" stroke="#2B73BE" stroke-width="1.0"/>
<text x="294.00" y="63.90" font-size="7.5" text-anchor="start" fill="#000">NiPc-NH<tspan font-size="4.65" dy="1.65">2</tspan><tspan dy="-1.65">​</tspan>/CNT (CO)</text>
<line x1="275.00" y1="72.40" x2="291.70" y2="72.40" stroke="#2B73BE" stroke-width="1.3"/>
<polygon points="283.40,69.40 286.37,74.13 280.43,74.13" fill="white" stroke="#2B73BE" stroke-width="1.0" stroke-linejoin="miter"/>
<text x="294.00" y="75.00" font-size="7.5" text-anchor="start" fill="#000">NiPc-NH<tspan font-size="4.65" dy="1.65">2</tspan><tspan dy="-1.65">​</tspan>/CNT (H<tspan font-size="4.65" dy="1.65">2</tspan><tspan dy="-1.65">​</tspan>)</text>
<line x1="275.00" y1="82.90" x2="291.70" y2="82.90" stroke="#F5B48E" stroke-width="1.3"/>
<rect x="281.20" y="80.70" width="4.40" height="4.40" fill="white" stroke="#F5B48E" stroke-width="1.0"/>
<text x="294.00" y="85.50" font-size="7.5" text-anchor="start" fill="#000">NiPc-NH<tspan font-size="4.65" dy="1.65">2</tspan><tspan dy="-1.65">​</tspan>/CNT-SHP (CO)</text>
<line x1="275.00" y1="93.60" x2="291.70" y2="93.60" stroke="#F5B48E" stroke-width="1.3"/>
<polygon points="283.40,90.60 286.37,95.33 280.43,95.33" fill="white" stroke="#F5B48E" stroke-width="1.0" stroke-linejoin="miter"/>
<text x="294.00" y="96.20" font-size="7.5" text-anchor="start" fill="#000">NiPc-NH<tspan font-size="4.65" dy="1.65">2</tspan><tspan dy="-1.65">​</tspan>/CNT-SHP (H<tspan font-size="4.65" dy="1.65">2</tspan><tspan dy="-1.65">​</tspan>)</text>
<line x1="275.00" y1="104.20" x2="291.70" y2="104.20" stroke="#5CC9CC" stroke-width="1.3"/>
<rect x="281.20" y="102.00" width="4.40" height="4.40" fill="white" stroke="#5CC9CC" stroke-width="1.0"/>
<text x="294.00" y="106.80" font-size="7.5" text-anchor="start" fill="#000">NiPc@CNT (CO)</text>
<line x1="275.00" y1="113.50" x2="291.70" y2="113.50" stroke="#5CC9CC" stroke-width="1.3"/>
<polygon points="283.40,110.50 286.37,115.23 280.43,115.23" fill="white" stroke="#5CC9CC" stroke-width="1.0" stroke-linejoin="miter"/>
<text x="294.00" y="116.10" font-size="7.5" text-anchor="start" fill="#000">NiPc@CNT (H<tspan font-size="4.65" dy="1.65">2</tspan><tspan dy="-1.65">​</tspan>)</text>
<text x="497.50" y="12.40" font-size="14.5" text-anchor="start" fill="#000" font-weight="bold">c</text>
<rect x="533.80" y="3.30" width="143.80" height="143.10" fill="none" stroke="#2e2e2e" stroke-width="1.25"/>
<line x1="533.80" y1="146.40" x2="533.80" y2="149.80" stroke="#2e2e2e" stroke-width="1"/>
<line x1="557.77" y1="146.40" x2="557.77" y2="149.80" stroke="#2e2e2e" stroke-width="1"/>
<line x1="581.73" y1="146.40" x2="581.73" y2="149.80" stroke="#2e2e2e" stroke-width="1"/>
<line x1="605.70" y1="146.40" x2="605.70" y2="149.80" stroke="#2e2e2e" stroke-width="1"/>
<line x1="629.67" y1="146.40" x2="629.67" y2="149.80" stroke="#2e2e2e" stroke-width="1"/>
<line x1="653.63" y1="146.40" x2="653.63" y2="149.80" stroke="#2e2e2e" stroke-width="1"/>
<line x1="677.60" y1="146.40" x2="677.60" y2="149.80" stroke="#2e2e2e" stroke-width="1"/>
<line x1="545.78" y1="146.40" x2="545.78" y2="148.40" stroke="#2e2e2e" stroke-width="1"/>
<line x1="569.75" y1="146.40" x2="569.75" y2="148.40" stroke="#2e2e2e" stroke-width="1"/>
<line x1="593.72" y1="146.40" x2="593.72" y2="148.40" stroke="#2e2e2e" stroke-width="1"/>
<line x1="617.68" y1="146.40" x2="617.68" y2="148.40" stroke="#2e2e2e" stroke-width="1"/>
<line x1="641.65" y1="146.40" x2="641.65" y2="148.40" stroke="#2e2e2e" stroke-width="1"/>
<line x1="665.62" y1="146.40" x2="665.62" y2="148.40" stroke="#2e2e2e" stroke-width="1"/>
<text x="533.80" y="158.40" font-size="8.8" text-anchor="middle" fill="#000">-2.2</text>
<text x="557.77" y="158.40" font-size="8.8" text-anchor="middle" fill="#000">-2.0</text>
<text x="581.73" y="158.40" font-size="8.8" text-anchor="middle" fill="#000">-1.8</text>
<text x="605.70" y="158.40" font-size="8.8" text-anchor="middle" fill="#000">-1.6</text>
<text x="629.67" y="158.40" font-size="8.8" text-anchor="middle" fill="#000">-1.4</text>
<text x="653.63" y="158.40" font-size="8.8" text-anchor="middle" fill="#000">-1.2</text>
<text x="677.60" y="158.40" font-size="8.8" text-anchor="middle" fill="#000">-1.0</text>
<line x1="533.80" y1="10.50" x2="530.40" y2="10.50" stroke="#2e2e2e" stroke-width="1"/>
<line x1="533.80" y1="38.90" x2="530.40" y2="38.90" stroke="#2e2e2e" stroke-width="1"/>
<line x1="533.80" y1="67.30" x2="530.40" y2="67.30" stroke="#2e2e2e" stroke-width="1"/>
<line x1="533.80" y1="95.70" x2="530.40" y2="95.70" stroke="#2e2e2e" stroke-width="1"/>
<line x1="533.80" y1="124.10" x2="530.40" y2="124.10" stroke="#2e2e2e" stroke-width="1"/>
<line x1="533.80" y1="24.70" x2="531.80" y2="24.70" stroke="#2e2e2e" stroke-width="1"/>
<line x1="533.80" y1="53.10" x2="531.80" y2="53.10" stroke="#2e2e2e" stroke-width="1"/>
<line x1="533.80" y1="81.50" x2="531.80" y2="81.50" stroke="#2e2e2e" stroke-width="1"/>
<line x1="533.80" y1="109.90" x2="531.80" y2="109.90" stroke="#2e2e2e" stroke-width="1"/>
<line x1="533.80" y1="138.30" x2="531.80" y2="138.30" stroke="#2e2e2e" stroke-width="1"/>
<text x="528.40" y="12.90" font-size="8.8" text-anchor="end" fill="#000">0</text>
<text x="528.40" y="41.30" font-size="8.8" text-anchor="end" fill="#000">-100</text>
<text x="528.40" y="69.70" font-size="8.8" text-anchor="end" fill="#000">-200</text>
<text x="528.40" y="98.10" font-size="8.8" text-anchor="end" fill="#000">-300</text>
<text x="528.40" y="126.50" font-size="8.8" text-anchor="end" fill="#000">-400</text>
<text x="605.70" y="166.90" font-size="8.9" text-anchor="middle" fill="#000">E-iR (V vs. RHE)</text>
<text x="506.60" y="75.20" font-size="9.6" text-anchor="middle" fill="#000" transform="rotate(-90 506.60 75.20)"><tspan font-style="italic">j</tspan><tspan font-size="5.95" dy="2.11">CO</tspan><tspan dy="-2.11">​</tspan> (mA cm<tspan font-size="5.95" dy="-3.46">-2</tspan><tspan dy="3.46">​</tspan>)</text>
<line x1="535.90" y1="48.50" x2="552.50" y2="48.50" stroke="#22CDD6" stroke-width="1.4"/>
<circle cx="544.30" cy="48.50" r="2.5" fill="white" stroke="#22CDD6" stroke-width="1.15"/>
<text x="535.90" y="59.80" font-size="7.6" text-anchor="start" fill="#000">NiPc@CNT</text>
<line x1="535.90" y1="66.90" x2="552.50" y2="66.90" stroke="#2A6DB5" stroke-width="1.4"/>
<circle cx="544.30" cy="66.90" r="2.5" fill="white" stroke="#2A6DB5" stroke-width="1.15"/>
<text x="535.90" y="78.80" font-size="7.6" text-anchor="start" fill="#000">NiPc-NH<tspan font-size="4.71" dy="1.67">2</tspan><tspan dy="-1.67">​</tspan>/CNT</text>
<line x1="535.90" y1="87.30" x2="552.50" y2="87.30" stroke="#F0A032" stroke-width="1.4"/>
<circle cx="544.30" cy="87.30" r="2.5" fill="white" stroke="#F0A032" stroke-width="1.15"/>
<text x="535.90" y="99.10" font-size="7.6" text-anchor="start" fill="#000">NiPc-NH<tspan font-size="4.71" dy="1.67">2</tspan><tspan dy="-1.67">​</tspan>/CNT-SHP</text>
<path d="M605.34,131.20 C606.60,130.40 610.49,127.89 612.89,126.37 C615.29,124.86 617.34,125.09 619.72,122.11 C622.10,119.13 625.07,112.98 627.15,108.48 C629.23,103.98 630.35,99.77 632.18,95.13 C634.02,90.49 636.28,85.41 638.17,80.65 C640.07,75.89 641.87,71.28 643.57,66.59 C645.26,61.90 645.94,57.18 648.36,52.53 C650.78,47.88 654.87,43.34 658.07,38.70 C661.26,34.06 664.88,27.98 667.53,24.70 C670.19,21.42 672.33,20.11 674.00,19.02 C675.68,17.93 677.00,18.31 677.60,18.17" fill="none" stroke="#F0A032" stroke-width="1.4"/>
<path d="M580.42,113.31 C581.63,113.78 585.11,115.44 587.73,116.15 C590.34,116.86 593.52,117.38 596.11,117.57 C598.71,117.76 601.31,117.85 603.30,117.28 C605.30,116.72 606.50,115.49 608.10,114.16 C609.69,112.83 611.51,110.80 612.89,109.33 C614.27,107.86 614.57,107.06 616.37,105.36 C618.16,103.65 621.46,100.95 623.67,99.11 C625.89,97.26 628.25,96.74 629.67,94.28 C631.08,91.82 630.98,87.65 632.18,84.34 C633.38,81.03 635.12,77.36 636.86,74.40 C638.59,71.44 640.91,70.14 642.61,66.59 C644.31,63.04 644.91,57.75 647.04,53.10 C649.18,48.45 652.02,43.43 655.43,38.70 C658.85,33.97 664.58,27.98 667.53,24.70 C670.49,21.42 671.49,20.11 673.17,19.02 C674.84,17.93 676.86,18.31 677.60,18.17" fill="none" stroke="#2A6DB5" stroke-width="1.4"/>
<path d="M572.75,21.41 C574.24,21.86 579.52,23.44 581.73,24.13 C583.95,24.82 584.45,25.36 586.05,25.55 C587.65,25.74 589.98,25.51 591.32,25.27 C592.66,25.03 592.90,23.18 594.08,24.10 C595.25,25.03 596.87,28.27 598.39,30.81 C599.91,33.34 601.67,36.47 603.18,39.30 C604.70,42.13 606.38,45.56 607.50,47.79 C608.62,50.02 608.98,50.47 609.89,52.70 C610.81,54.94 611.89,58.36 613.01,61.19 C614.13,64.03 615.59,67.70 616.60,69.71 C617.62,71.73 618.40,72.52 619.12,73.26 C619.84,74.01 620.26,74.15 620.92,74.20 C621.58,74.25 622.38,73.98 623.08,73.55 C623.77,73.11 624.25,72.63 625.11,71.59 C625.97,70.55 626.49,70.48 628.23,67.30 C629.97,64.12 632.64,57.30 635.54,52.53 C638.43,47.77 641.97,43.34 645.60,38.70 C649.24,34.06 654.41,27.89 657.35,24.70 C660.28,21.51 661.04,20.68 663.22,19.59 C665.40,18.50 668.01,18.40 670.41,18.17 C672.81,17.93 676.40,18.17 677.60,18.17" fill="none" stroke="#22CDD6" stroke-width="1.4"/>
<circle cx="605.34" cy="131.20" r="2.5" fill="white" stroke="#F0A032" stroke-width="1.15"/>
<circle cx="619.72" cy="122.11" r="2.5" fill="white" stroke="#F0A032" stroke-width="1.15"/>
<circle cx="627.15" cy="108.48" r="2.5" fill="white" stroke="#F0A032" stroke-width="1.15"/>
<circle cx="632.18" cy="95.13" r="2.5" fill="white" stroke="#F0A032" stroke-width="1.15"/>
<circle cx="638.17" cy="80.65" r="2.5" fill="white" stroke="#F0A032" stroke-width="1.15"/>
<circle cx="643.57" cy="66.59" r="2.5" fill="white" stroke="#F0A032" stroke-width="1.15"/>
<circle cx="648.36" cy="52.53" r="2.5" fill="white" stroke="#F0A032" stroke-width="1.15"/>
<circle cx="658.07" cy="38.70" r="2.5" fill="white" stroke="#F0A032" stroke-width="1.15"/>
<circle cx="667.53" cy="23.90" r="2.5" fill="white" stroke="#F0A032" stroke-width="1.15"/>
<circle cx="674.00" cy="17.49" r="2.5" fill="white" stroke="#F0A032" stroke-width="1.15"/>
<circle cx="580.42" cy="113.31" r="2.5" fill="white" stroke="#2A6DB5" stroke-width="1.15"/>
<circle cx="607.26" cy="119.27" r="2.5" fill="white" stroke="#2A6DB5" stroke-width="1.15"/>
<circle cx="616.37" cy="105.36" r="2.5" fill="white" stroke="#2A6DB5" stroke-width="1.15"/>
<circle cx="629.79" cy="95.13" r="2.5" fill="white" stroke="#2A6DB5" stroke-width="1.15"/>
<circle cx="632.18" cy="80.65" r="2.5" fill="white" stroke="#2A6DB5" stroke-width="1.15"/>
<circle cx="642.61" cy="66.59" r="2.5" fill="white" stroke="#2A6DB5" stroke-width="1.15"/>
<circle cx="647.04" cy="52.53" r="2.5" fill="white" stroke="#2A6DB5" stroke-width="1.15"/>
<circle cx="655.43" cy="38.70" r="2.5" fill="white" stroke="#2A6DB5" stroke-width="1.15"/>
<circle cx="667.53" cy="23.90" r="2.5" fill="white" stroke="#2A6DB5" stroke-width="1.15"/>
<circle cx="673.17" cy="17.49" r="2.5" fill="white" stroke="#2A6DB5" stroke-width="1.15"/>
<circle cx="572.75" cy="21.41" r="2.5" fill="white" stroke="#22CDD6" stroke-width="1.15"/>
<circle cx="586.05" cy="25.89" r="2.5" fill="white" stroke="#22CDD6" stroke-width="1.15"/>
<circle cx="594.56" cy="23.99" r="2.5" fill="white" stroke="#22CDD6" stroke-width="1.15"/>
<circle cx="609.65" cy="52.53" r="2.5" fill="white" stroke="#22CDD6" stroke-width="1.15"/>
<circle cx="619.72" cy="80.08" r="2.5" fill="white" stroke="#22CDD6" stroke-width="1.15"/>
<circle cx="627.51" cy="66.59" r="2.5" fill="white" stroke="#22CDD6" stroke-width="1.15"/>
<circle cx="635.54" cy="52.53" r="2.5" fill="white" stroke="#22CDD6" stroke-width="1.15"/>
<circle cx="645.60" cy="38.70" r="2.5" fill="white" stroke="#22CDD6" stroke-width="1.15"/>
<circle cx="657.35" cy="23.90" r="2.5" fill="white" stroke="#22CDD6" stroke-width="1.15"/>
<circle cx="662.74" cy="17.49" r="2.5" fill="white" stroke="#22CDD6" stroke-width="1.15"/>
<circle cx="673.17" cy="17.49" r="2.5" fill="white" stroke="#22CDD6" stroke-width="1.15"/>
<path d="M598.34,129.80V132.60M612.34,129.80V132.60M598.34,131.20H602.44M608.24,131.20H612.34" stroke="#151515" stroke-width="1.0" fill="none"/>
<path d="M604.04,127.70H606.64M604.04,134.70H606.64M605.34,127.70V128.30M605.34,134.10V134.70" stroke="#151515" stroke-width="1.0" fill="none"/>
<path d="M617.12,120.71V123.51M622.32,120.71V123.51M617.12,122.11H622.32" stroke="#151515" stroke-width="1.0" fill="none"/>
<path d="M618.42,119.61H621.02M618.42,124.61H621.02M619.72,119.61V124.61" stroke="#151515" stroke-width="1.0" fill="none"/>
<path d="M624.55,107.08V109.88M629.75,107.08V109.88M624.55,108.48H629.75" stroke="#151515" stroke-width="1.0" fill="none"/>
<path d="M625.85,105.98H628.45M625.85,110.98H628.45M627.15,105.98V110.98" stroke="#151515" stroke-width="1.0" fill="none"/>
<path d="M629.58,93.73V96.53M634.78,93.73V96.53M629.58,95.13H634.78" stroke="#151515" stroke-width="1.0" fill="none"/>
<path d="M630.88,92.93H633.48M630.88,97.33H633.48M632.18,92.93V97.33" stroke="#151515" stroke-width="1.0" fill="none"/>
<path d="M635.57,79.25V82.05M640.77,79.25V82.05M635.57,80.65H640.77" stroke="#151515" stroke-width="1.0" fill="none"/>
<path d="M636.87,78.45H639.47M636.87,82.85H639.47M638.17,78.45V82.85" stroke="#151515" stroke-width="1.0" fill="none"/>
<path d="M640.97,65.19V67.99M646.17,65.19V67.99M640.97,66.59H646.17" stroke="#151515" stroke-width="1.0" fill="none"/>
<path d="M642.27,64.39H644.87M642.27,68.79H644.87M643.57,64.39V68.79" stroke="#151515" stroke-width="1.0" fill="none"/>
<path d="M645.76,51.13V53.93M650.96,51.13V53.93M645.76,52.53H650.96" stroke="#151515" stroke-width="1.0" fill="none"/>
<path d="M647.06,50.33H649.66M647.06,54.73H649.66M648.36,50.33V54.73" stroke="#151515" stroke-width="1.0" fill="none"/>
<path d="M655.47,37.30V40.10M660.67,37.30V40.10M655.47,38.70H660.67" stroke="#151515" stroke-width="1.0" fill="none"/>
<path d="M656.77,36.50H659.37M656.77,40.90H659.37M658.07,36.50V40.90" stroke="#151515" stroke-width="1.0" fill="none"/>
<path d="M664.93,22.50V25.30M670.13,22.50V25.30M664.93,23.90H670.13" stroke="#151515" stroke-width="1.0" fill="none"/>
<path d="M666.23,21.70H668.83M666.23,26.10H668.83M667.53,21.70V26.10" stroke="#151515" stroke-width="1.0" fill="none"/>
<path d="M671.40,16.09V18.89M676.61,16.09V18.89M671.40,17.49H676.61" stroke="#151515" stroke-width="1.0" fill="none"/>
<path d="M672.71,15.29H675.30M672.71,19.69H675.30M674.00,15.29V19.69" stroke="#151515" stroke-width="1.0" fill="none"/>
<path d="M572.02,111.91V114.71M588.82,111.91V114.71M572.02,113.31H577.52M583.32,113.31H588.82" stroke="#151515" stroke-width="1.0" fill="none"/>
<path d="M579.12,110.81H581.72M579.12,115.81H581.72" stroke="#151515" stroke-width="1.0" fill="none"/>
<path d="M602.76,117.87V120.67M611.76,117.87V120.67M602.76,119.27H604.36M610.16,119.27H611.76" stroke="#151515" stroke-width="1.0" fill="none"/>
<path d="M605.96,117.07H608.56M605.96,121.47H608.56" stroke="#151515" stroke-width="1.0" fill="none"/>
<path d="M613.77,103.96V106.76M618.97,103.96V106.76M613.77,105.36H618.97" stroke="#151515" stroke-width="1.0" fill="none"/>
<path d="M615.07,103.16H617.67M615.07,107.56H617.67M616.37,103.16V107.56" stroke="#151515" stroke-width="1.0" fill="none"/>
<path d="M627.19,93.73V96.53M632.39,93.73V96.53M627.19,95.13H632.39" stroke="#151515" stroke-width="1.0" fill="none"/>
<path d="M628.49,92.93H631.09M628.49,97.33H631.09M629.79,92.93V97.33" stroke="#151515" stroke-width="1.0" fill="none"/>
<path d="M629.58,79.25V82.05M634.78,79.25V82.05M629.58,80.65H634.78" stroke="#151515" stroke-width="1.0" fill="none"/>
<path d="M630.88,78.45H633.48M630.88,82.85H633.48M632.18,78.45V82.85" stroke="#151515" stroke-width="1.0" fill="none"/>
<path d="M640.01,65.19V67.99M645.21,65.19V67.99M640.01,66.59H645.21" stroke="#151515" stroke-width="1.0" fill="none"/>
<path d="M641.31,64.39H643.91M641.31,68.79H643.91M642.61,64.39V68.79" stroke="#151515" stroke-width="1.0" fill="none"/>
<path d="M644.44,51.13V53.93M649.64,51.13V53.93M644.44,52.53H649.64" stroke="#151515" stroke-width="1.0" fill="none"/>
<path d="M645.74,50.33H648.34M645.74,54.73H648.34M647.04,50.33V54.73" stroke="#151515" stroke-width="1.0" fill="none"/>
<path d="M652.83,37.30V40.10M658.03,37.30V40.10M652.83,38.70H658.03" stroke="#151515" stroke-width="1.0" fill="none"/>
<path d="M654.13,36.50H656.73M654.13,40.90H656.73M655.43,36.50V40.90" stroke="#151515" stroke-width="1.0" fill="none"/>
<path d="M664.93,22.50V25.30M670.13,22.50V25.30M664.93,23.90H670.13" stroke="#151515" stroke-width="1.0" fill="none"/>
<path d="M666.23,21.70H668.83M666.23,26.10H668.83M667.53,21.70V26.10" stroke="#151515" stroke-width="1.0" fill="none"/>
<path d="M670.57,16.09V18.89M675.77,16.09V18.89M670.57,17.49H675.77" stroke="#151515" stroke-width="1.0" fill="none"/>
<path d="M671.87,15.29H674.47M671.87,19.69H674.47M673.17,15.29V19.69" stroke="#151515" stroke-width="1.0" fill="none"/>
<path d="M570.15,20.01V22.81M575.35,20.01V22.81M570.15,21.41H575.35" stroke="#151515" stroke-width="1.0" fill="none"/>
<path d="M571.45,19.21H574.05M571.45,23.61H574.05M572.75,19.21V23.61" stroke="#151515" stroke-width="1.0" fill="none"/>
<path d="M581.05,24.49V27.29M591.05,24.49V27.29M581.05,25.89H583.15M588.95,25.89H591.05" stroke="#151515" stroke-width="1.0" fill="none"/>
<path d="M584.75,23.69H587.35M584.75,28.09H587.35" stroke="#151515" stroke-width="1.0" fill="none"/>
<path d="M591.76,22.59V25.39M597.36,22.59V25.39M591.76,23.99H597.36" stroke="#151515" stroke-width="1.0" fill="none"/>
<path d="M593.26,21.79H595.86M593.26,26.19H595.86M594.56,21.79V26.19" stroke="#151515" stroke-width="1.0" fill="none"/>
<path d="M603.65,51.13V53.93M615.65,51.13V53.93M603.65,52.53H606.75M612.55,52.53H615.65" stroke="#151515" stroke-width="1.0" fill="none"/>
<path d="M608.35,48.03H610.95M608.35,57.03H610.95M609.65,48.03V49.63M609.65,55.43V57.03" stroke="#151515" stroke-width="1.0" fill="none"/>
<path d="M617.12,78.68V81.48M622.32,78.68V81.48M617.12,80.08H622.32" stroke="#151515" stroke-width="1.0" fill="none"/>
<path d="M618.42,77.88H621.02M618.42,82.28H621.02M619.72,77.88V82.28" stroke="#151515" stroke-width="1.0" fill="none"/>
<path d="M624.91,65.19V67.99M630.11,65.19V67.99M624.91,66.59H630.11" stroke="#151515" stroke-width="1.0" fill="none"/>
<path d="M626.21,64.39H628.81M626.21,68.79H628.81M627.51,64.39V68.79" stroke="#151515" stroke-width="1.0" fill="none"/>
<path d="M632.94,51.13V53.93M638.14,51.13V53.93M632.94,52.53H638.14" stroke="#151515" stroke-width="1.0" fill="none"/>
<path d="M634.24,50.33H636.84M634.24,54.73H636.84M635.54,50.33V54.73" stroke="#151515" stroke-width="1.0" fill="none"/>
<path d="M643.00,37.30V40.10M648.20,37.30V40.10M643.00,38.70H648.20" stroke="#151515" stroke-width="1.0" fill="none"/>
<path d="M644.30,36.50H646.90M644.30,40.90H646.90M645.60,36.50V40.90" stroke="#151515" stroke-width="1.0" fill="none"/>
<path d="M654.75,22.50V25.30M659.95,22.50V25.30M654.75,23.90H659.95" stroke="#151515" stroke-width="1.0" fill="none"/>
<path d="M656.05,21.70H658.65M656.05,26.10H658.65M657.35,21.70V26.10" stroke="#151515" stroke-width="1.0" fill="none"/>
<path d="M660.14,16.09V18.89M665.34,16.09V18.89M660.14,17.49H665.34" stroke="#151515" stroke-width="1.0" fill="none"/>
<path d="M661.44,15.29H664.04M661.44,19.69H664.04M662.74,15.29V19.69" stroke="#151515" stroke-width="1.0" fill="none"/>
<path d="M670.57,16.09V18.89M675.77,16.09V18.89M670.57,17.49H675.77" stroke="#151515" stroke-width="1.0" fill="none"/>
<path d="M671.87,15.29H674.47M671.87,19.69H674.47M673.17,15.29V19.69" stroke="#151515" stroke-width="1.0" fill="none"/>
<text x="0.50" y="191.20" font-size="14.5" text-anchor="start" fill="#000" font-weight="bold">d</text>
<rect x="42.50" y="184.60" width="178.20" height="142.70" fill="none" stroke="#2e2e2e" stroke-width="1.25"/>
<line x1="42.50" y1="327.30" x2="42.50" y2="330.70" stroke="#2e2e2e" stroke-width="1"/>
<line x1="78.14" y1="327.30" x2="78.14" y2="330.70" stroke="#2e2e2e" stroke-width="1"/>
<line x1="113.78" y1="327.30" x2="113.78" y2="330.70" stroke="#2e2e2e" stroke-width="1"/>
<line x1="149.42" y1="327.30" x2="149.42" y2="330.70" stroke="#2e2e2e" stroke-width="1"/>
<line x1="185.06" y1="327.30" x2="185.06" y2="330.70" stroke="#2e2e2e" stroke-width="1"/>
<line x1="220.70" y1="327.30" x2="220.70" y2="330.70" stroke="#2e2e2e" stroke-width="1"/>
<line x1="60.32" y1="327.30" x2="60.32" y2="329.30" stroke="#2e2e2e" stroke-width="1"/>
<line x1="95.96" y1="327.30" x2="95.96" y2="329.30" stroke="#2e2e2e" stroke-width="1"/>
<line x1="131.60" y1="327.30" x2="131.60" y2="329.30" stroke="#2e2e2e" stroke-width="1"/>
<line x1="167.24" y1="327.30" x2="167.24" y2="329.30" stroke="#2e2e2e" stroke-width="1"/>
<line x1="202.88" y1="327.30" x2="202.88" y2="329.30" stroke="#2e2e2e" stroke-width="1"/>
<text x="42.50" y="339.30" font-size="8.8" text-anchor="middle" fill="#000">-2.0</text>
<text x="78.14" y="339.30" font-size="8.8" text-anchor="middle" fill="#000">-1.8</text>
<text x="113.78" y="339.30" font-size="8.8" text-anchor="middle" fill="#000">-1.6</text>
<text x="149.42" y="339.30" font-size="8.8" text-anchor="middle" fill="#000">-1.4</text>
<text x="185.06" y="339.30" font-size="8.8" text-anchor="middle" fill="#000">-1.2</text>
<text x="220.70" y="339.30" font-size="8.8" text-anchor="middle" fill="#000">-1.0</text>
<line x1="42.50" y1="320.10" x2="39.10" y2="320.10" stroke="#2e2e2e" stroke-width="1"/>
<line x1="42.50" y1="289.98" x2="39.10" y2="289.98" stroke="#2e2e2e" stroke-width="1"/>
<line x1="42.50" y1="259.86" x2="39.10" y2="259.86" stroke="#2e2e2e" stroke-width="1"/>
<line x1="42.50" y1="229.74" x2="39.10" y2="229.74" stroke="#2e2e2e" stroke-width="1"/>
<line x1="42.50" y1="199.62" x2="39.10" y2="199.62" stroke="#2e2e2e" stroke-width="1"/>
<line x1="42.50" y1="305.04" x2="40.50" y2="305.04" stroke="#2e2e2e" stroke-width="1"/>
<line x1="42.50" y1="274.92" x2="40.50" y2="274.92" stroke="#2e2e2e" stroke-width="1"/>
<line x1="42.50" y1="244.80" x2="40.50" y2="244.80" stroke="#2e2e2e" stroke-width="1"/>
<line x1="42.50" y1="214.68" x2="40.50" y2="214.68" stroke="#2e2e2e" stroke-width="1"/>
<text x="37.10" y="322.50" font-size="8.8" text-anchor="end" fill="#000">0</text>
<text x="37.10" y="292.38" font-size="8.8" text-anchor="end" fill="#000">2</text>
<text x="37.10" y="262.26" font-size="8.8" text-anchor="end" fill="#000">4</text>
<text x="37.10" y="232.14" font-size="8.8" text-anchor="end" fill="#000">6</text>
<text x="37.10" y="202.02" font-size="8.8" text-anchor="end" fill="#000">8</text>
<text x="135.00" y="348.70" font-size="8.9" text-anchor="middle" fill="#000">E-iR (V vs. RHE)</text>
<text x="26.30" y="263.90" font-size="8.8" text-anchor="middle" fill="#000" transform="rotate(-90 26.30 263.90)">CO production rate (mmol cm<tspan font-size="5.46" dy="-3.17">-2</tspan><tspan dy="3.17">​</tspan> h<tspan font-size="5.46" dy="-3.17">-1</tspan><tspan dy="3.17">​</tspan>)</text>
<line x1="44.10" y1="238.10" x2="59.60" y2="238.10" stroke="#F0A032" stroke-width="1.4"/>
<circle cx="52.00" cy="238.10" r="2.5" fill="white" stroke="#F0A032" stroke-width="1.15"/>
<text x="62.70" y="241.40" font-size="8.1" text-anchor="start" fill="#000">NiPc-NH<tspan font-size="5.02" dy="1.78">2</tspan><tspan dy="-1.78">​</tspan>/CNT-SHP</text>
<line x1="44.10" y1="250.00" x2="59.60" y2="250.00" stroke="#2A6DB5" stroke-width="1.4"/>
<circle cx="52.00" cy="250.00" r="2.5" fill="white" stroke="#2A6DB5" stroke-width="1.15"/>
<text x="62.70" y="253.30" font-size="8.1" text-anchor="start" fill="#000">NiPc-NH<tspan font-size="5.02" dy="1.78">2</tspan><tspan dy="-1.78">​</tspan>/CNT</text>
<line x1="44.10" y1="261.90" x2="59.60" y2="261.90" stroke="#22CDD6" stroke-width="1.4"/>
<circle cx="52.00" cy="261.90" r="2.5" fill="white" stroke="#22CDD6" stroke-width="1.15"/>
<text x="62.70" y="265.20" font-size="8.1" text-anchor="start" fill="#000">NiPc@CNT</text>
<path d="M112.89,200.07 C114.52,200.62 119.22,201.85 122.69,203.39 C126.16,204.92 129.97,206.12 133.74,209.26 C137.51,212.40 142.11,218.04 145.32,222.21 C148.53,226.38 150.34,229.74 152.98,234.26 C155.63,238.78 158.12,244.42 161.18,249.32 C164.24,254.21 168.55,259.36 171.34,263.62 C174.13,267.89 174.49,270.15 177.93,274.92 C181.38,279.69 187.23,287.09 192.01,292.24 C196.79,297.38 202.73,302.66 206.62,305.79 C210.51,308.93 213.01,309.93 215.35,311.06 C217.70,312.19 219.81,312.32 220.70,312.57" fill="none" stroke="#F0A032" stroke-width="1.4"/>
<path d="M76.71,217.99 C78.73,217.62 84.44,216.34 88.83,215.73 C93.23,215.13 98.93,214.35 103.09,214.38 C107.25,214.40 110.51,214.96 113.78,215.88 C117.05,216.81 120.05,218.39 122.69,219.95 C125.33,221.51 126.67,222.71 129.64,225.22 C132.61,227.73 137.21,231.75 140.51,235.01 C143.81,238.27 146.15,241.16 149.42,244.80 C152.69,248.44 156.87,253.33 160.11,256.85 C163.35,260.36 166.20,262.62 168.84,265.88 C171.49,269.15 172.73,272.28 175.97,276.43 C179.21,280.57 183.78,286.09 188.27,290.73 C192.75,295.38 198.66,300.95 202.88,304.29 C207.10,307.63 210.60,309.38 213.57,310.76 C216.54,312.14 219.51,312.27 220.70,312.57" fill="none" stroke="#2A6DB5" stroke-width="1.4"/>
<path d="M64.42,309.56 C66.11,309.18 71.22,308.05 74.58,307.30 C77.93,306.55 81.59,305.37 84.56,305.04 C87.53,304.71 89.90,305.59 92.40,305.34 C94.89,305.09 96.55,305.59 99.52,303.53 C102.49,301.48 106.86,297.26 110.22,292.99 C113.57,288.73 116.69,282.70 119.66,277.93 C122.63,273.16 125.30,267.89 128.04,264.38 C130.77,260.86 133.68,257.60 136.05,256.85 C138.43,256.10 140.54,258.68 142.29,259.86 C144.04,261.04 144.01,261.04 146.57,263.93 C149.12,266.81 153.37,272.41 157.62,277.18 C161.86,281.95 167.48,288.27 172.05,292.54 C176.63,296.81 180.52,300.07 185.06,302.78 C189.60,305.49 194.86,307.35 199.32,308.81 C203.77,310.26 208.23,310.94 211.79,311.52 C215.35,312.09 219.21,312.14 220.70,312.27" fill="none" stroke="#22CDD6" stroke-width="1.4"/>
<circle cx="112.89" cy="200.07" r="2.5" fill="white" stroke="#F0A032" stroke-width="1.15"/>
<circle cx="133.74" cy="209.26" r="2.5" fill="white" stroke="#F0A032" stroke-width="1.15"/>
<circle cx="145.32" cy="222.66" r="2.5" fill="white" stroke="#F0A032" stroke-width="1.15"/>
<circle cx="151.38" cy="235.46" r="2.5" fill="white" stroke="#F0A032" stroke-width="1.15"/>
<circle cx="161.18" cy="249.92" r="2.5" fill="white" stroke="#F0A032" stroke-width="1.15"/>
<circle cx="171.34" cy="263.93" r="2.5" fill="white" stroke="#F0A032" stroke-width="1.15"/>
<circle cx="177.93" cy="278.53" r="2.5" fill="white" stroke="#F0A032" stroke-width="1.15"/>
<circle cx="192.01" cy="292.54" r="2.5" fill="white" stroke="#F0A032" stroke-width="1.15"/>
<circle cx="206.62" cy="306.55" r="2.5" fill="white" stroke="#F0A032" stroke-width="1.15"/>
<circle cx="213.04" cy="313.02" r="2.5" fill="white" stroke="#F0A032" stroke-width="1.15"/>
<circle cx="76.71" cy="217.99" r="2.5" fill="white" stroke="#2A6DB5" stroke-width="1.15"/>
<circle cx="115.56" cy="211.67" r="2.5" fill="white" stroke="#2A6DB5" stroke-width="1.15"/>
<circle cx="129.64" cy="225.67" r="2.5" fill="white" stroke="#2A6DB5" stroke-width="1.15"/>
<circle cx="148.89" cy="235.46" r="2.5" fill="white" stroke="#2A6DB5" stroke-width="1.15"/>
<circle cx="153.16" cy="250.67" r="2.5" fill="white" stroke="#2A6DB5" stroke-width="1.15"/>
<circle cx="168.84" cy="263.93" r="2.5" fill="white" stroke="#2A6DB5" stroke-width="1.15"/>
<circle cx="175.97" cy="278.53" r="2.5" fill="white" stroke="#2A6DB5" stroke-width="1.15"/>
<circle cx="188.27" cy="292.54" r="2.5" fill="white" stroke="#2A6DB5" stroke-width="1.15"/>
<circle cx="206.62" cy="306.55" r="2.5" fill="white" stroke="#2A6DB5" stroke-width="1.15"/>
<circle cx="213.04" cy="313.77" r="2.5" fill="white" stroke="#2A6DB5" stroke-width="1.15"/>
<circle cx="64.42" cy="309.56" r="2.5" fill="white" stroke="#22CDD6" stroke-width="1.15"/>
<circle cx="84.56" cy="304.74" r="2.5" fill="white" stroke="#22CDD6" stroke-width="1.15"/>
<circle cx="95.96" cy="306.85" r="2.5" fill="white" stroke="#22CDD6" stroke-width="1.15"/>
<circle cx="119.66" cy="277.93" r="2.5" fill="white" stroke="#22CDD6" stroke-width="1.15"/>
<circle cx="133.74" cy="250.67" r="2.5" fill="white" stroke="#22CDD6" stroke-width="1.15"/>
<circle cx="146.57" cy="263.93" r="2.5" fill="white" stroke="#22CDD6" stroke-width="1.15"/>
<circle cx="157.62" cy="278.53" r="2.5" fill="white" stroke="#22CDD6" stroke-width="1.15"/>
<circle cx="172.05" cy="292.54" r="2.5" fill="white" stroke="#22CDD6" stroke-width="1.15"/>
<circle cx="190.94" cy="306.55" r="2.5" fill="white" stroke="#22CDD6" stroke-width="1.15"/>
<circle cx="198.25" cy="313.02" r="2.5" fill="white" stroke="#22CDD6" stroke-width="1.15"/>
<circle cx="213.04" cy="313.02" r="2.5" fill="white" stroke="#22CDD6" stroke-width="1.15"/>
<path d="M100.09,198.67V201.47M125.69,198.67V201.47M100.09,200.07H109.99M115.79,200.07H125.69" stroke="#151515" stroke-width="1.0" fill="none"/>
<path d="M111.59,197.57H114.19M111.59,202.57H114.19" stroke="#151515" stroke-width="1.0" fill="none"/>
<path d="M126.74,207.86V210.66M140.74,207.86V210.66M126.74,209.26H130.84M136.64,209.26H140.74" stroke="#151515" stroke-width="1.0" fill="none"/>
<path d="M132.44,207.06H135.04M132.44,211.46H135.04" stroke="#151515" stroke-width="1.0" fill="none"/>
<path d="M142.72,221.26V224.06M147.92,221.26V224.06M142.72,222.66H147.92" stroke="#151515" stroke-width="1.0" fill="none"/>
<path d="M144.02,220.46H146.62M144.02,224.86H146.62M145.32,220.46V224.86" stroke="#151515" stroke-width="1.0" fill="none"/>
<path d="M148.78,234.06V236.86M153.98,234.06V236.86M148.78,235.46H153.98" stroke="#151515" stroke-width="1.0" fill="none"/>
<path d="M150.08,233.26H152.68M150.08,237.66H152.68M151.38,233.26V237.66" stroke="#151515" stroke-width="1.0" fill="none"/>
<path d="M157.18,248.52V251.32M165.18,248.52V251.32M157.18,249.92H165.18" stroke="#151515" stroke-width="1.0" fill="none"/>
<path d="M159.88,247.72H162.48M159.88,252.12H162.48M161.18,247.72V252.12" stroke="#151515" stroke-width="1.0" fill="none"/>
<path d="M168.74,262.53V265.33M173.94,262.53V265.33M168.74,263.93H173.94" stroke="#151515" stroke-width="1.0" fill="none"/>
<path d="M170.04,261.73H172.64M170.04,266.13H172.64M171.34,261.73V266.13" stroke="#151515" stroke-width="1.0" fill="none"/>
<path d="M175.33,277.13V279.93M180.53,277.13V279.93M175.33,278.53H180.53" stroke="#151515" stroke-width="1.0" fill="none"/>
<path d="M176.63,276.33H179.23M176.63,280.73H179.23M177.93,276.33V280.73" stroke="#151515" stroke-width="1.0" fill="none"/>
<path d="M189.41,291.14V293.94M194.61,291.14V293.94M189.41,292.54H194.61" stroke="#151515" stroke-width="1.0" fill="none"/>
<path d="M190.71,290.34H193.31M190.71,294.74H193.31M192.01,290.34V294.74" stroke="#151515" stroke-width="1.0" fill="none"/>
<path d="M204.02,305.15V307.95M209.22,305.15V307.95M204.02,306.55H209.22" stroke="#151515" stroke-width="1.0" fill="none"/>
<path d="M205.32,304.35H207.92M205.32,308.75H207.92M206.62,304.35V308.75" stroke="#151515" stroke-width="1.0" fill="none"/>
<path d="M210.44,311.62V314.42M215.64,311.62V314.42M210.44,313.02H215.64" stroke="#151515" stroke-width="1.0" fill="none"/>
<path d="M211.74,310.82H214.34M211.74,315.22H214.34M213.04,310.82V315.22" stroke="#151515" stroke-width="1.0" fill="none"/>
<path d="M66.21,216.59V219.39M87.21,216.59V219.39M66.21,217.99H73.81M79.61,217.99H87.21" stroke="#151515" stroke-width="1.0" fill="none"/>
<path d="M75.41,215.49H78.01M75.41,220.49H78.01" stroke="#151515" stroke-width="1.0" fill="none"/>
<path d="M110.56,210.27V213.07M120.56,210.27V213.07M110.56,211.67H112.66M118.46,211.67H120.56" stroke="#151515" stroke-width="1.0" fill="none"/>
<path d="M114.26,209.47H116.86M114.26,213.87H116.86" stroke="#151515" stroke-width="1.0" fill="none"/>
<path d="M125.64,224.27V227.07M133.64,224.27V227.07M125.64,225.67H133.64" stroke="#151515" stroke-width="1.0" fill="none"/>
<path d="M128.34,223.47H130.94M128.34,227.87H130.94M129.64,223.47V227.87" stroke="#151515" stroke-width="1.0" fill="none"/>
<path d="M146.29,234.06V236.86M151.49,234.06V236.86M146.29,235.46H151.49" stroke="#151515" stroke-width="1.0" fill="none"/>
<path d="M147.59,233.26H150.19M147.59,237.66H150.19M148.89,233.26V237.66" stroke="#151515" stroke-width="1.0" fill="none"/>
<path d="M149.16,249.27V252.07M157.16,249.27V252.07M149.16,250.67H157.16" stroke="#151515" stroke-width="1.0" fill="none"/>
<path d="M151.86,248.47H154.46M151.86,252.87H154.46M153.16,248.47V252.87" stroke="#151515" stroke-width="1.0" fill="none"/>
<path d="M166.24,262.53V265.33M171.44,262.53V265.33M166.24,263.93H171.44" stroke="#151515" stroke-width="1.0" fill="none"/>
<path d="M167.54,261.73H170.14M167.54,266.13H170.14M168.84,261.73V266.13" stroke="#151515" stroke-width="1.0" fill="none"/>
<path d="M173.37,277.13V279.93M178.57,277.13V279.93M173.37,278.53H178.57" stroke="#151515" stroke-width="1.0" fill="none"/>
<path d="M174.67,276.33H177.27M174.67,280.73H177.27M175.97,276.33V280.73" stroke="#151515" stroke-width="1.0" fill="none"/>
<path d="M185.67,291.14V293.94M190.87,291.14V293.94M185.67,292.54H190.87" stroke="#151515" stroke-width="1.0" fill="none"/>
<path d="M186.97,290.34H189.57M186.97,294.74H189.57M188.27,290.34V294.74" stroke="#151515" stroke-width="1.0" fill="none"/>
<path d="M204.02,305.15V307.95M209.22,305.15V307.95M204.02,306.55H209.22" stroke="#151515" stroke-width="1.0" fill="none"/>
<path d="M205.32,304.35H207.92M205.32,308.75H207.92M206.62,304.35V308.75" stroke="#151515" stroke-width="1.0" fill="none"/>
<path d="M210.44,312.37V315.17M215.64,312.37V315.17M210.44,313.77H215.64" stroke="#151515" stroke-width="1.0" fill="none"/>
<path d="M211.74,311.57H214.34M211.74,315.97H214.34M213.04,311.57V315.97" stroke="#151515" stroke-width="1.0" fill="none"/>
<path d="M57.82,308.16V310.96M71.02,308.16V310.96M57.82,309.56H61.52M67.32,309.56H71.02" stroke="#151515" stroke-width="1.0" fill="none"/>
<path d="M63.12,307.36H65.72M63.12,311.76H65.72" stroke="#151515" stroke-width="1.0" fill="none"/>
<path d="M74.56,303.34V306.14M94.56,303.34V306.14M74.56,304.74H81.66M87.46,304.74H94.56" stroke="#151515" stroke-width="1.0" fill="none"/>
<path d="M83.26,302.54H85.86M83.26,306.94H85.86" stroke="#151515" stroke-width="1.0" fill="none"/>
<path d="M90.26,305.45V308.25M101.66,305.45V308.25M90.26,306.85H93.06M98.86,306.85H101.66" stroke="#151515" stroke-width="1.0" fill="none"/>
<path d="M94.66,304.65H97.26M94.66,309.05H97.26" stroke="#151515" stroke-width="1.0" fill="none"/>
<path d="M109.66,276.53V279.33M129.66,276.53V279.33M109.66,277.93H116.76M122.56,277.93H129.66" stroke="#151515" stroke-width="1.0" fill="none"/>
<path d="M118.36,273.13H120.96M118.36,282.73H120.96M119.66,273.13V275.03M119.66,280.83V282.73" stroke="#151515" stroke-width="1.0" fill="none"/>
<path d="M131.14,249.27V252.07M136.34,249.27V252.07M131.14,250.67H136.34" stroke="#151515" stroke-width="1.0" fill="none"/>
<path d="M132.44,248.47H135.04M132.44,252.87H135.04M133.74,248.47V252.87" stroke="#151515" stroke-width="1.0" fill="none"/>
<path d="M143.97,262.53V265.33M149.17,262.53V265.33M143.97,263.93H149.17" stroke="#151515" stroke-width="1.0" fill="none"/>
<path d="M145.27,261.73H147.87M145.27,266.13H147.87M146.57,261.73V266.13" stroke="#151515" stroke-width="1.0" fill="none"/>
<path d="M155.02,277.13V279.93M160.22,277.13V279.93M155.02,278.53H160.22" stroke="#151515" stroke-width="1.0" fill="none"/>
<path d="M156.32,276.33H158.92M156.32,280.73H158.92M157.62,276.33V280.73" stroke="#151515" stroke-width="1.0" fill="none"/>
<path d="M169.45,291.14V293.94M174.65,291.14V293.94M169.45,292.54H174.65" stroke="#151515" stroke-width="1.0" fill="none"/>
<path d="M170.75,290.34H173.35M170.75,294.74H173.35M172.05,290.34V294.74" stroke="#151515" stroke-width="1.0" fill="none"/>
<path d="M188.34,305.15V307.95M193.54,305.15V307.95M188.34,306.55H193.54" stroke="#151515" stroke-width="1.0" fill="none"/>
<path d="M189.64,304.35H192.24M189.64,308.75H192.24M190.94,304.35V308.75" stroke="#151515" stroke-width="1.0" fill="none"/>
<path d="M195.65,311.62V314.42M200.85,311.62V314.42M195.65,313.02H200.85" stroke="#151515" stroke-width="1.0" fill="none"/>
<path d="M196.95,310.82H199.55M196.95,315.22H199.55M198.25,310.82V315.22" stroke="#151515" stroke-width="1.0" fill="none"/>
<path d="M210.44,311.62V314.42M215.64,311.62V314.42M210.44,313.02H215.64" stroke="#151515" stroke-width="1.0" fill="none"/>
<path d="M211.74,310.82H214.34M211.74,315.22H214.34M213.04,310.82V315.22" stroke="#151515" stroke-width="1.0" fill="none"/>
<text x="239.30" y="191.30" font-size="14.5" text-anchor="start" fill="#000" font-weight="bold">e</text>
<rect x="271.80" y="184.30" width="209.70" height="143.30" fill="none" stroke="#2e2e2e" stroke-width="1.25"/>
<line x1="271.80" y1="327.60" x2="268.40" y2="327.60" stroke="#2e2e2e" stroke-width="1"/>
<line x1="271.80" y1="298.94" x2="268.40" y2="298.94" stroke="#2e2e2e" stroke-width="1"/>
<line x1="271.80" y1="270.28" x2="268.40" y2="270.28" stroke="#2e2e2e" stroke-width="1"/>
<line x1="271.80" y1="241.62" x2="268.40" y2="241.62" stroke="#2e2e2e" stroke-width="1"/>
<line x1="271.80" y1="212.96" x2="268.40" y2="212.96" stroke="#2e2e2e" stroke-width="1"/>
<line x1="271.80" y1="184.30" x2="268.40" y2="184.30" stroke="#2e2e2e" stroke-width="1"/>
<line x1="271.80" y1="313.27" x2="269.80" y2="313.27" stroke="#2e2e2e" stroke-width="1"/>
<line x1="271.80" y1="284.61" x2="269.80" y2="284.61" stroke="#2e2e2e" stroke-width="1"/>
<line x1="271.80" y1="255.95" x2="269.80" y2="255.95" stroke="#2e2e2e" stroke-width="1"/>
<line x1="271.80" y1="227.29" x2="269.80" y2="227.29" stroke="#2e2e2e" stroke-width="1"/>
<line x1="271.80" y1="198.63" x2="269.80" y2="198.63" stroke="#2e2e2e" stroke-width="1"/>
<text x="266.40" y="330.00" font-size="8.8" text-anchor="end" fill="#000">0</text>
<text x="266.40" y="301.34" font-size="8.8" text-anchor="end" fill="#000">4</text>
<text x="266.40" y="272.68" font-size="8.8" text-anchor="end" fill="#000">8</text>
<text x="266.40" y="244.02" font-size="8.8" text-anchor="end" fill="#000">12</text>
<text x="266.40" y="215.36" font-size="8.8" text-anchor="end" fill="#000">16</text>
<text x="266.40" y="186.70" font-size="8.8" text-anchor="end" fill="#000">20</text>
<text x="255.40" y="256.00" font-size="8.8" text-anchor="middle" fill="#000" transform="rotate(-90 255.40 256.00)">TOF (s<tspan font-size="5.46" dy="-3.17">-1</tspan><tspan dy="3.17">​</tspan>)</text>
<rect x="274.30" y="320.08" width="5.75" height="7.52" fill="#F2AE7B" stroke="#333" stroke-width="0.7"/>
<rect x="280.05" y="320.58" width="5.75" height="7.02" fill="#1696DA" stroke="#333" stroke-width="0.7"/>
<rect x="285.80" y="323.59" width="5.75" height="4.01" fill="#7DD3CB" stroke="#333" stroke-width="0.7"/>
<text x="284.43" y="337.30" font-size="8.3" text-anchor="middle" fill="#000" transform="rotate(-17 284.43 337.30)">35</text>
<rect x="295.20" y="313.56" width="5.75" height="14.04" fill="#F2AE7B" stroke="#333" stroke-width="0.7"/>
<rect x="300.95" y="314.20" width="5.75" height="13.40" fill="#1696DA" stroke="#333" stroke-width="0.7"/>
<rect x="306.70" y="319.22" width="5.75" height="8.38" fill="#7DD3CB" stroke="#333" stroke-width="0.7"/>
<text x="305.32" y="337.30" font-size="8.3" text-anchor="middle" fill="#000" transform="rotate(-17 305.32 337.30)">50</text>
<rect x="316.10" y="298.22" width="5.75" height="29.38" fill="#F2AE7B" stroke="#333" stroke-width="0.7"/>
<rect x="321.85" y="299.30" width="5.75" height="28.30" fill="#1696DA" stroke="#333" stroke-width="0.7"/>
<rect x="327.60" y="310.69" width="5.75" height="16.91" fill="#7DD3CB" stroke="#333" stroke-width="0.7"/>
<text x="326.23" y="337.30" font-size="8.3" text-anchor="middle" fill="#000" transform="rotate(-17 326.23 337.30)">100</text>
<rect x="337.00" y="283.54" width="5.75" height="44.06" fill="#F2AE7B" stroke="#333" stroke-width="0.7"/>
<rect x="342.75" y="284.97" width="5.75" height="42.63" fill="#1696DA" stroke="#333" stroke-width="0.7"/>
<rect x="348.50" y="301.09" width="5.75" height="26.51" fill="#7DD3CB" stroke="#333" stroke-width="0.7"/>
<text x="347.12" y="337.30" font-size="8.3" text-anchor="middle" fill="#000" transform="rotate(-17 347.12 337.30)">150</text>
<rect x="357.90" y="268.49" width="5.75" height="59.11" fill="#F2AE7B" stroke="#333" stroke-width="0.7"/>
<rect x="363.65" y="270.28" width="5.75" height="57.32" fill="#1696DA" stroke="#333" stroke-width="0.7"/>
<rect x="369.40" y="292.49" width="5.75" height="35.11" fill="#7DD3CB" stroke="#333" stroke-width="0.7"/>
<text x="368.02" y="337.30" font-size="8.3" text-anchor="middle" fill="#000" transform="rotate(-17 368.02 337.30)">200</text>
<rect x="378.80" y="253.44" width="5.75" height="74.16" fill="#F2AE7B" stroke="#333" stroke-width="0.7"/>
<rect x="384.55" y="255.59" width="5.75" height="72.01" fill="#1696DA" stroke="#333" stroke-width="0.7"/>
<rect x="390.30" y="283.18" width="5.75" height="44.42" fill="#7DD3CB" stroke="#333" stroke-width="0.7"/>
<text x="388.93" y="337.30" font-size="8.3" text-anchor="middle" fill="#000" transform="rotate(-17 388.93 337.30)">250</text>
<rect x="399.70" y="238.40" width="5.75" height="89.20" fill="#F2AE7B" stroke="#333" stroke-width="0.7"/>
<rect x="405.45" y="240.90" width="5.75" height="86.70" fill="#1696DA" stroke="#333" stroke-width="0.7"/>
<rect x="411.20" y="300.66" width="5.75" height="26.94" fill="#7DD3CB" stroke="#333" stroke-width="0.7"/>
<text x="409.82" y="337.30" font-size="8.3" text-anchor="middle" fill="#000" transform="rotate(-17 409.82 337.30)">300</text>
<rect x="420.60" y="224.07" width="5.75" height="103.53" fill="#F2AE7B" stroke="#333" stroke-width="0.7"/>
<rect x="426.35" y="230.51" width="5.75" height="97.09" fill="#1696DA" stroke="#333" stroke-width="0.7"/>
<rect x="432.10" y="319.00" width="5.75" height="8.60" fill="#7DD3CB" stroke="#333" stroke-width="0.7"/>
<text x="430.73" y="337.30" font-size="8.3" text-anchor="middle" fill="#000" transform="rotate(-17 430.73 337.30)">350</text>
<rect x="441.50" y="210.09" width="5.75" height="117.51" fill="#F2AE7B" stroke="#333" stroke-width="0.7"/>
<rect x="447.25" y="215.83" width="5.75" height="111.77" fill="#1696DA" stroke="#333" stroke-width="0.7"/>
<rect x="453.00" y="317.93" width="5.75" height="9.67" fill="#7DD3CB" stroke="#333" stroke-width="0.7"/>
<text x="451.62" y="337.30" font-size="8.3" text-anchor="middle" fill="#000" transform="rotate(-17 451.62 337.30)">400</text>
<rect x="462.40" y="200.06" width="5.75" height="127.54" fill="#F2AE7B" stroke="#333" stroke-width="0.7"/>
<rect x="468.15" y="221.56" width="5.75" height="106.04" fill="#1696DA" stroke="#333" stroke-width="0.7"/>
<rect x="473.90" y="320.79" width="5.75" height="6.81" fill="#7DD3CB" stroke="#333" stroke-width="0.7"/>
<text x="472.52" y="337.30" font-size="8.3" text-anchor="middle" fill="#000" transform="rotate(-17 472.52 337.30)">500</text>
<line x1="271.80" y1="184.30" x2="271.80" y2="327.60" stroke="#2e2e2e" stroke-width="1.25"/>
<line x1="271.80" y1="327.60" x2="481.50" y2="327.60" stroke="#2e2e2e" stroke-width="1.25"/>
<text x="376.70" y="347.20" font-size="8.3" text-anchor="middle" fill="#000">Current density (mA cm<tspan font-size="5.15" dy="-2.99">-2</tspan><tspan dy="2.99">​</tspan>)</text>
<rect x="287.2" y="214.50" width="15.4" height="7.6" fill="#F2AE7B" stroke="#333" stroke-width="0.7"/>
<text x="304.90" y="221.40" font-size="8.1" text-anchor="start" fill="#000">NiPc-NH<tspan font-size="5.02" dy="1.78">2</tspan><tspan dy="-1.78">​</tspan>/CNT-SHP</text>
<rect x="287.2" y="226.20" width="15.4" height="7.6" fill="#1696DA" stroke="#333" stroke-width="0.7"/>
<text x="304.90" y="233.10" font-size="8.1" text-anchor="start" fill="#000">NiPc-NH<tspan font-size="5.02" dy="1.78">2</tspan><tspan dy="-1.78">​</tspan>/CNT</text>
<rect x="287.2" y="237.90" width="15.4" height="7.6" fill="#7DD3CB" stroke="#333" stroke-width="0.7"/>
<text x="304.90" y="244.80" font-size="8.1" text-anchor="start" fill="#000">NiPc@CNT</text>
<text x="497.30" y="192.30" font-size="14.5" text-anchor="start" fill="#000" font-weight="bold">f</text>
<rect x="534.40" y="184.60" width="143.20" height="142.70" fill="none" stroke="#2e2e2e" stroke-width="1.25"/>
<line x1="534.40" y1="327.30" x2="534.40" y2="330.70" stroke="#2e2e2e" stroke-width="1"/>
<line x1="563.04" y1="327.30" x2="563.04" y2="330.70" stroke="#2e2e2e" stroke-width="1"/>
<line x1="591.68" y1="327.30" x2="591.68" y2="330.70" stroke="#2e2e2e" stroke-width="1"/>
<line x1="620.32" y1="327.30" x2="620.32" y2="330.70" stroke="#2e2e2e" stroke-width="1"/>
<line x1="648.96" y1="327.30" x2="648.96" y2="330.70" stroke="#2e2e2e" stroke-width="1"/>
<line x1="677.60" y1="327.30" x2="677.60" y2="330.70" stroke="#2e2e2e" stroke-width="1"/>
<line x1="548.72" y1="327.30" x2="548.72" y2="329.30" stroke="#2e2e2e" stroke-width="1"/>
<line x1="577.36" y1="327.30" x2="577.36" y2="329.30" stroke="#2e2e2e" stroke-width="1"/>
<line x1="606.00" y1="327.30" x2="606.00" y2="329.30" stroke="#2e2e2e" stroke-width="1"/>
<line x1="634.64" y1="327.30" x2="634.64" y2="329.30" stroke="#2e2e2e" stroke-width="1"/>
<line x1="663.28" y1="327.30" x2="663.28" y2="329.30" stroke="#2e2e2e" stroke-width="1"/>
<text x="534.40" y="339.30" font-size="8.8" text-anchor="middle" fill="#000">-2.0</text>
<text x="563.04" y="339.30" font-size="8.8" text-anchor="middle" fill="#000">-1.8</text>
<text x="591.68" y="339.30" font-size="8.8" text-anchor="middle" fill="#000">-1.6</text>
<text x="620.32" y="339.30" font-size="8.8" text-anchor="middle" fill="#000">-1.4</text>
<text x="648.96" y="339.30" font-size="8.8" text-anchor="middle" fill="#000">-1.2</text>
<text x="677.60" y="339.30" font-size="8.8" text-anchor="middle" fill="#000">-1.0</text>
<line x1="534.40" y1="192.20" x2="531.00" y2="192.20" stroke="#2e2e2e" stroke-width="1"/>
<line x1="534.40" y1="222.30" x2="531.00" y2="222.30" stroke="#2e2e2e" stroke-width="1"/>
<line x1="534.40" y1="252.40" x2="531.00" y2="252.40" stroke="#2e2e2e" stroke-width="1"/>
<line x1="534.40" y1="282.50" x2="531.00" y2="282.50" stroke="#2e2e2e" stroke-width="1"/>
<line x1="534.40" y1="312.60" x2="531.00" y2="312.60" stroke="#2e2e2e" stroke-width="1"/>
<line x1="534.40" y1="207.25" x2="532.40" y2="207.25" stroke="#2e2e2e" stroke-width="1"/>
<line x1="534.40" y1="237.35" x2="532.40" y2="237.35" stroke="#2e2e2e" stroke-width="1"/>
<line x1="534.40" y1="267.45" x2="532.40" y2="267.45" stroke="#2e2e2e" stroke-width="1"/>
<line x1="534.40" y1="297.55" x2="532.40" y2="297.55" stroke="#2e2e2e" stroke-width="1"/>
<line x1="534.40" y1="327.65" x2="532.40" y2="327.65" stroke="#2e2e2e" stroke-width="1"/>
<text x="529.00" y="194.60" font-size="8.8" text-anchor="end" fill="#000">0</text>
<text x="529.00" y="224.70" font-size="8.8" text-anchor="end" fill="#000">-2</text>
<text x="529.00" y="254.80" font-size="8.8" text-anchor="end" fill="#000">-4</text>
<text x="529.00" y="284.90" font-size="8.8" text-anchor="end" fill="#000">-6</text>
<text x="529.00" y="315.00" font-size="8.8" text-anchor="end" fill="#000">-8</text>
<text x="609.30" y="348.80" font-size="8.9" text-anchor="middle" fill="#000">E-iR (V vs. RHE)</text>
<text x="516.70" y="258.00" font-size="9.5" text-anchor="middle" fill="#000" transform="rotate(-90 516.70 258.00)"><tspan font-style="italic">j</tspan><tspan font-size="6.65" dy="2.09">CO/ECSA</tspan><tspan dy="-2.09">​</tspan>(mA cm<tspan font-size="6.65" dy="-3.42">-2</tspan><tspan dy="3.42">​</tspan>)</text>
<line x1="550.20" y1="297.30" x2="566.30" y2="297.30" stroke="#22CDD6" stroke-width="1.4"/>
<circle cx="558.40" cy="297.30" r="2.5" fill="white" stroke="#22CDD6" stroke-width="1.15"/>
<text x="569.40" y="300.40" font-size="8.1" text-anchor="start" fill="#000">NiPc@CNT</text>
<line x1="550.20" y1="307.40" x2="566.30" y2="307.40" stroke="#2A6DB5" stroke-width="1.4"/>
<circle cx="558.40" cy="307.40" r="2.5" fill="white" stroke="#2A6DB5" stroke-width="1.15"/>
<text x="569.40" y="310.50" font-size="8.1" text-anchor="start" fill="#000">NiPc-NH<tspan font-size="5.02" dy="1.78">2</tspan><tspan dy="-1.78">​</tspan>/CNT</text>
<line x1="550.20" y1="319.30" x2="566.30" y2="319.30" stroke="#F0A032" stroke-width="1.4"/>
<circle cx="558.40" cy="319.30" r="2.5" fill="white" stroke="#F0A032" stroke-width="1.15"/>
<text x="569.40" y="322.40" font-size="8.1" text-anchor="start" fill="#000">NiPc-NH<tspan font-size="5.02" dy="1.78">2</tspan><tspan dy="-1.78">​</tspan>/CNT-SHP</text>
<path d="M590.53,287.77 C591.92,287.14 595.93,285.26 598.84,284.00 C601.75,282.75 604.97,282.60 608.00,280.24 C611.04,277.88 614.40,273.37 617.03,269.86 C619.65,266.35 621.63,262.81 623.76,259.17 C625.88,255.54 627.36,251.80 629.77,248.04 C632.18,244.27 635.86,240.26 638.22,236.60 C640.58,232.94 641.16,229.82 643.95,226.06 C646.74,222.30 651.51,217.53 654.97,214.02 C658.44,210.51 661.90,207.38 664.71,204.99 C667.53,202.61 669.72,200.90 671.87,199.72 C674.02,198.55 676.65,198.22 677.60,197.92" fill="none" stroke="#F0A032" stroke-width="1.4"/>
<path d="M561.89,274.97 C563.52,275.28 568.10,276.33 571.63,276.78 C575.16,277.23 579.75,277.73 583.09,277.68 C586.43,277.63 589.05,277.31 591.68,276.48 C594.31,275.65 596.69,273.97 598.84,272.72 C600.99,271.46 602.18,270.33 604.57,268.95 C606.95,267.58 610.58,266.20 613.16,264.44 C615.74,262.68 618.12,260.68 620.03,258.42 C621.94,256.16 622.90,253.28 624.62,250.89 C626.33,248.51 628.46,246.33 630.34,244.12 C632.23,241.92 634.04,240.54 635.93,237.65 C637.81,234.77 639.15,230.63 641.66,226.81 C644.16,223.00 647.84,218.16 650.96,214.77 C654.09,211.39 657.41,208.88 660.42,206.50 C663.42,204.11 666.14,201.91 669.01,200.48 C671.87,199.05 676.17,198.35 677.60,197.92" fill="none" stroke="#2A6DB5" stroke-width="1.4"/>
<path d="M551.58,202.43 C553.02,202.79 557.43,203.86 560.18,204.54 C562.92,205.22 565.67,206.17 568.05,206.50 C570.44,206.82 572.47,206.25 574.50,206.50 C576.52,206.75 577.84,206.12 580.22,208.00 C582.61,209.88 586.17,213.90 588.82,217.78 C591.47,221.67 593.73,226.81 596.12,231.33 C598.51,235.84 601.13,241.41 603.14,244.88 C605.14,248.34 606.48,251.05 608.15,252.10 C609.82,253.15 611.51,252.27 613.16,251.20 C614.81,250.12 615.64,248.79 618.03,245.63 C620.42,242.47 624.00,236.70 627.48,232.23 C630.96,227.77 635.36,222.75 638.94,218.84 C642.52,214.93 645.62,211.56 648.96,208.75 C652.30,205.95 655.64,203.61 658.98,201.98 C662.33,200.35 665.91,199.65 669.01,198.97 C672.11,198.30 676.17,198.09 677.60,197.92" fill="none" stroke="#22CDD6" stroke-width="1.4"/>
<circle cx="590.53" cy="287.77" r="2.6" fill="white" stroke="#F0A032" stroke-width="1.15"/>
<circle cx="608.00" cy="280.24" r="2.6" fill="white" stroke="#F0A032" stroke-width="1.15"/>
<circle cx="617.03" cy="269.86" r="2.6" fill="white" stroke="#F0A032" stroke-width="1.15"/>
<circle cx="623.76" cy="259.17" r="2.6" fill="white" stroke="#F0A032" stroke-width="1.15"/>
<circle cx="629.77" cy="248.04" r="2.6" fill="white" stroke="#F0A032" stroke-width="1.15"/>
<circle cx="638.22" cy="236.60" r="2.6" fill="white" stroke="#F0A032" stroke-width="1.15"/>
<circle cx="643.95" cy="224.86" r="2.6" fill="white" stroke="#F0A032" stroke-width="1.15"/>
<circle cx="654.97" cy="213.72" r="2.6" fill="white" stroke="#F0A032" stroke-width="1.15"/>
<circle cx="665.86" cy="203.04" r="2.6" fill="white" stroke="#F0A032" stroke-width="1.15"/>
<circle cx="671.87" cy="197.92" r="2.6" fill="white" stroke="#F0A032" stroke-width="1.15"/>
<circle cx="561.89" cy="274.97" r="2.6" fill="white" stroke="#2A6DB5" stroke-width="1.15"/>
<circle cx="592.83" cy="280.24" r="2.6" fill="white" stroke="#2A6DB5" stroke-width="1.15"/>
<circle cx="604.57" cy="268.65" r="2.6" fill="white" stroke="#2A6DB5" stroke-width="1.15"/>
<circle cx="620.03" cy="260.08" r="2.6" fill="white" stroke="#2A6DB5" stroke-width="1.15"/>
<circle cx="623.04" cy="248.94" r="2.6" fill="white" stroke="#2A6DB5" stroke-width="1.15"/>
<circle cx="635.93" cy="237.65" r="2.6" fill="white" stroke="#2A6DB5" stroke-width="1.15"/>
<circle cx="641.66" cy="226.21" r="2.6" fill="white" stroke="#2A6DB5" stroke-width="1.15"/>
<circle cx="650.96" cy="214.17" r="2.6" fill="white" stroke="#2A6DB5" stroke-width="1.15"/>
<circle cx="665.86" cy="203.04" r="2.6" fill="white" stroke="#2A6DB5" stroke-width="1.15"/>
<circle cx="671.87" cy="197.92" r="2.6" fill="white" stroke="#2A6DB5" stroke-width="1.15"/>
<circle cx="551.58" cy="202.43" r="2.6" fill="white" stroke="#22CDD6" stroke-width="1.15"/>
<circle cx="568.05" cy="206.95" r="2.6" fill="white" stroke="#22CDD6" stroke-width="1.15"/>
<circle cx="577.65" cy="204.84" r="2.6" fill="white" stroke="#22CDD6" stroke-width="1.15"/>
<circle cx="596.12" cy="232.23" r="2.6" fill="white" stroke="#22CDD6" stroke-width="1.15"/>
<circle cx="608.43" cy="258.72" r="2.6" fill="white" stroke="#22CDD6" stroke-width="1.15"/>
<circle cx="618.03" cy="245.63" r="2.6" fill="white" stroke="#22CDD6" stroke-width="1.15"/>
<circle cx="627.48" cy="232.23" r="2.6" fill="white" stroke="#22CDD6" stroke-width="1.15"/>
<circle cx="638.94" cy="218.84" r="2.6" fill="white" stroke="#22CDD6" stroke-width="1.15"/>
<circle cx="653.97" cy="204.99" r="2.6" fill="white" stroke="#22CDD6" stroke-width="1.15"/>
<circle cx="659.41" cy="198.97" r="2.6" fill="white" stroke="#22CDD6" stroke-width="1.15"/>
<circle cx="671.87" cy="197.92" r="2.6" fill="white" stroke="#22CDD6" stroke-width="1.15"/>
<text x="0.30" y="373.30" font-size="14.5" text-anchor="start" fill="#000" font-weight="bold">g</text>
<line x1="42.40" y1="367.60" x2="42.40" y2="510.20" stroke="#2e2e2e" stroke-width="1.25"/>
<line x1="42.40" y1="367.60" x2="241.00" y2="367.60" stroke="#2e2e2e" stroke-width="1.25"/>
<line x1="42.40" y1="510.20" x2="241.00" y2="510.20" stroke="#2e2e2e" stroke-width="1.25"/>
<line x1="42.40" y1="510.20" x2="42.40" y2="513.60" stroke="#2e2e2e" stroke-width="1"/>
<line x1="82.12" y1="510.20" x2="82.12" y2="513.60" stroke="#2e2e2e" stroke-width="1"/>
<line x1="121.84" y1="510.20" x2="121.84" y2="513.60" stroke="#2e2e2e" stroke-width="1"/>
<line x1="161.56" y1="510.20" x2="161.56" y2="513.60" stroke="#2e2e2e" stroke-width="1"/>
<line x1="201.28" y1="510.20" x2="201.28" y2="513.60" stroke="#2e2e2e" stroke-width="1"/>
<line x1="241.00" y1="510.20" x2="241.00" y2="513.60" stroke="#2e2e2e" stroke-width="1"/>
<line x1="62.26" y1="510.20" x2="62.26" y2="512.20" stroke="#2e2e2e" stroke-width="1"/>
<line x1="101.98" y1="510.20" x2="101.98" y2="512.20" stroke="#2e2e2e" stroke-width="1"/>
<line x1="141.70" y1="510.20" x2="141.70" y2="512.20" stroke="#2e2e2e" stroke-width="1"/>
<line x1="181.42" y1="510.20" x2="181.42" y2="512.20" stroke="#2e2e2e" stroke-width="1"/>
<line x1="221.14" y1="510.20" x2="221.14" y2="512.20" stroke="#2e2e2e" stroke-width="1"/>
<text x="42.40" y="522.60" font-size="8.8" text-anchor="middle" fill="#000">0</text>
<text x="82.12" y="522.60" font-size="8.8" text-anchor="middle" fill="#000">10</text>
<text x="121.84" y="522.60" font-size="8.8" text-anchor="middle" fill="#000">20</text>
<text x="161.56" y="522.60" font-size="8.8" text-anchor="middle" fill="#000">30</text>
<text x="201.28" y="522.60" font-size="8.8" text-anchor="middle" fill="#000">40</text>
<text x="241.00" y="522.60" font-size="8.8" text-anchor="middle" fill="#000">50</text>
<line x1="42.40" y1="367.60" x2="39.00" y2="367.60" stroke="#2e2e2e" stroke-width="1"/>
<line x1="42.40" y1="408.34" x2="39.00" y2="408.34" stroke="#2e2e2e" stroke-width="1"/>
<line x1="42.40" y1="449.09" x2="39.00" y2="449.09" stroke="#2e2e2e" stroke-width="1"/>
<line x1="42.40" y1="489.83" x2="39.00" y2="489.83" stroke="#2e2e2e" stroke-width="1"/>
<line x1="42.40" y1="387.97" x2="40.40" y2="387.97" stroke="#2e2e2e" stroke-width="1"/>
<line x1="42.40" y1="428.71" x2="40.40" y2="428.71" stroke="#2e2e2e" stroke-width="1"/>
<line x1="42.40" y1="469.46" x2="40.40" y2="469.46" stroke="#2e2e2e" stroke-width="1"/>
<line x1="42.40" y1="510.20" x2="40.40" y2="510.20" stroke="#2e2e2e" stroke-width="1"/>
<text x="37.00" y="370.00" font-size="8.8" text-anchor="end" fill="#000">2</text>
<text x="37.00" y="410.74" font-size="8.8" text-anchor="end" fill="#000">0</text>
<text x="37.00" y="451.49" font-size="8.8" text-anchor="end" fill="#000">-2</text>
<text x="37.00" y="492.23" font-size="8.8" text-anchor="end" fill="#000">-4</text>
<line x1="241.00" y1="367.60" x2="241.00" y2="510.20" stroke="#FF4A4A" stroke-width="1.2"/>
<line x1="238.00" y1="504.30" x2="241.00" y2="504.30" stroke="#FF4A4A" stroke-width="1"/>
<text x="245.00" y="506.40" font-size="8.4" text-anchor="start" fill="#FF1A1A">0</text>
<line x1="238.00" y1="478.34" x2="241.00" y2="478.34" stroke="#FF4A4A" stroke-width="1"/>
<text x="245.00" y="480.44" font-size="8.4" text-anchor="start" fill="#FF1A1A">20</text>
<line x1="238.00" y1="452.38" x2="241.00" y2="452.38" stroke="#FF4A4A" stroke-width="1"/>
<text x="245.00" y="454.48" font-size="8.4" text-anchor="start" fill="#FF1A1A">40</text>
<line x1="238.00" y1="426.42" x2="241.00" y2="426.42" stroke="#FF4A4A" stroke-width="1"/>
<text x="245.00" y="428.52" font-size="8.4" text-anchor="start" fill="#FF1A1A">60</text>
<line x1="238.00" y1="400.46" x2="241.00" y2="400.46" stroke="#FF4A4A" stroke-width="1"/>
<text x="245.00" y="402.56" font-size="8.4" text-anchor="start" fill="#FF1A1A">80</text>
<line x1="238.00" y1="374.50" x2="241.00" y2="374.50" stroke="#FF4A4A" stroke-width="1"/>
<text x="245.00" y="376.60" font-size="8.4" text-anchor="start" fill="#FF1A1A">100</text>
<line x1="239.00" y1="491.32" x2="241.00" y2="491.32" stroke="#FF4A4A" stroke-width="1"/>
<line x1="239.00" y1="465.36" x2="241.00" y2="465.36" stroke="#FF4A4A" stroke-width="1"/>
<line x1="239.00" y1="439.40" x2="241.00" y2="439.40" stroke="#FF4A4A" stroke-width="1"/>
<line x1="239.00" y1="413.44" x2="241.00" y2="413.44" stroke="#FF4A4A" stroke-width="1"/>
<line x1="239.00" y1="387.48" x2="241.00" y2="387.48" stroke="#FF4A4A" stroke-width="1"/>
<text x="263.20" y="438.60" font-size="8.65" text-anchor="middle" fill="#FF1A1A" transform="rotate(-90 263.20 438.60)">FE (%)</text>
<text x="145.10" y="533.00" font-size="8.9" text-anchor="middle" fill="#000">Time (h)</text>
<text x="26.80" y="438.50" font-size="9.9" text-anchor="middle" fill="#000" transform="rotate(-90 26.80 438.50)">E-iR (V vs. RHE)</text>
<polyline points="42.40,432.04 44.39,431.93 46.37,432.31 48.36,432.38 50.34,432.66 52.33,433.33 54.32,433.49 56.30,432.75 58.29,433.44 60.27,433.42 62.26,432.59 64.25,433.07 66.23,432.65 68.22,433.12 70.20,433.05 72.19,433.65 74.18,433.26 76.16,433.08 78.15,433.48 80.13,433.31 82.12,433.43 84.11,434.07 86.09,433.38 88.08,433.57 90.06,433.89 92.05,434.18 94.04,433.35 96.02,433.77 98.01,433.54 99.99,433.40 101.98,433.59 103.97,433.42 105.95,434.00 107.94,433.62 109.92,434.03 111.91,433.57 113.90,433.67 115.88,434.50 117.87,434.50 119.85,434.46 121.84,433.74 123.83,434.45 125.81,434.43 127.80,434.93 129.78,434.89 131.77,435.18 133.76,435.39 135.74,435.40 137.73,435.66 139.71,435.59 141.70,436.07 143.69,436.07 145.67,436.40 147.66,436.52 149.64,437.27" fill="none" stroke="#4A4A4A" stroke-width="3.0" stroke-linejoin="round"/>
<polyline points="150.44,432.61 152.82,433.81 155.20,433.78 157.59,434.35 159.57,434.82 161.56,435.57 163.55,435.83 165.53,436.75 167.52,436.58 169.50,437.30 171.49,438.05 173.48,438.73 175.46,438.39 177.45,438.71 179.43,440.08 181.42,439.82 183.41,440.11 185.39,440.27 187.38,439.82 189.36,439.03 191.35,438.62 193.34,439.16 195.32,438.48 197.31,438.96 199.29,438.17 201.28,438.46 203.27,438.00 205.25,438.00 207.24,438.59 209.22,438.19 211.21,438.99 213.20,439.33 215.18,438.75 217.17,439.28 219.15,439.06 221.14,438.79 223.36,438.46 225.59,438.80 227.81,438.80 230.04,437.83 232.26,438.09" fill="none" stroke="#4A4A4A" stroke-width="3.0" stroke-linejoin="round"/>
<path d="M52.8,424.6 Q49.5,419.8 45.8,417.8" stroke="#111" stroke-width="0.9" fill="none"/>
<polygon points="44.6,417.0 47.6,417.4 46.2,419.4" fill="#111"/>
<polyline points="42.40,374.24 45.30,373.85 49.91,375.15 54.00,373.72 57.77,373.72 61.86,375.41 65.68,373.72 69.77,373.72 73.86,373.72 125.41,374.37 127.40,375.28 129.78,376.06 146.07,374.89 146.86,375.54 153.62,376.06 189.36,378.78 200.49,378.78 228.69,378.78" fill="none" stroke="#FF2020" stroke-width="1.0" stroke-linejoin="round"/>
<circle cx="45.30" cy="373.85" r="2.6" fill="#FF1E1E" stroke="#E01010" stroke-width="0.4"/>
<circle cx="45.00" cy="373.15" r="0.83" fill="#fff" fill-opacity="0.6"/>
<circle cx="49.91" cy="375.15" r="2.6" fill="#FF1E1E" stroke="#E01010" stroke-width="0.4"/>
<circle cx="49.61" cy="374.45" r="0.83" fill="#fff" fill-opacity="0.6"/>
<circle cx="54.00" cy="373.72" r="2.6" fill="#FF1E1E" stroke="#E01010" stroke-width="0.4"/>
<circle cx="53.70" cy="373.02" r="0.83" fill="#fff" fill-opacity="0.6"/>
<circle cx="57.77" cy="373.72" r="2.6" fill="#FF1E1E" stroke="#E01010" stroke-width="0.4"/>
<circle cx="57.47" cy="373.02" r="0.83" fill="#fff" fill-opacity="0.6"/>
<circle cx="61.86" cy="375.41" r="2.6" fill="#FF1E1E" stroke="#E01010" stroke-width="0.4"/>
<circle cx="61.56" cy="374.71" r="0.83" fill="#fff" fill-opacity="0.6"/>
<circle cx="65.68" cy="373.72" r="2.6" fill="#FF1E1E" stroke="#E01010" stroke-width="0.4"/>
<circle cx="65.38" cy="373.02" r="0.83" fill="#fff" fill-opacity="0.6"/>
<circle cx="69.77" cy="373.72" r="2.6" fill="#FF1E1E" stroke="#E01010" stroke-width="0.4"/>
<circle cx="69.47" cy="373.02" r="0.83" fill="#fff" fill-opacity="0.6"/>
<circle cx="73.86" cy="373.72" r="2.6" fill="#FF1E1E" stroke="#E01010" stroke-width="0.4"/>
<circle cx="73.56" cy="373.02" r="0.83" fill="#fff" fill-opacity="0.6"/>
<circle cx="125.41" cy="374.37" r="2.6" fill="#FF1E1E" stroke="#E01010" stroke-width="0.4"/>
<circle cx="125.11" cy="373.67" r="0.83" fill="#fff" fill-opacity="0.6"/>
<circle cx="127.40" cy="375.28" r="2.6" fill="#FF1E1E" stroke="#E01010" stroke-width="0.4"/>
<circle cx="127.10" cy="374.58" r="0.83" fill="#fff" fill-opacity="0.6"/>
<circle cx="129.78" cy="376.06" r="2.6" fill="#FF1E1E" stroke="#E01010" stroke-width="0.4"/>
<circle cx="129.48" cy="375.36" r="0.83" fill="#fff" fill-opacity="0.6"/>
<circle cx="146.07" cy="374.89" r="2.6" fill="#FF1E1E" stroke="#E01010" stroke-width="0.4"/>
<circle cx="145.77" cy="374.19" r="0.83" fill="#fff" fill-opacity="0.6"/>
<circle cx="146.86" cy="375.54" r="2.6" fill="#FF1E1E" stroke="#E01010" stroke-width="0.4"/>
<circle cx="146.56" cy="374.84" r="0.83" fill="#fff" fill-opacity="0.6"/>
<circle cx="153.62" cy="376.06" r="2.6" fill="#FF1E1E" stroke="#E01010" stroke-width="0.4"/>
<circle cx="153.32" cy="375.36" r="0.83" fill="#fff" fill-opacity="0.6"/>
<circle cx="189.36" cy="378.78" r="2.6" fill="#FF1E1E" stroke="#E01010" stroke-width="0.4"/>
<circle cx="189.06" cy="378.08" r="0.83" fill="#fff" fill-opacity="0.6"/>
<circle cx="200.49" cy="378.78" r="2.6" fill="#FF1E1E" stroke="#E01010" stroke-width="0.4"/>
<circle cx="200.19" cy="378.08" r="0.83" fill="#fff" fill-opacity="0.6"/>
<circle cx="228.69" cy="378.78" r="2.6" fill="#FF1E1E" stroke="#E01010" stroke-width="0.4"/>
<circle cx="228.39" cy="378.08" r="0.83" fill="#fff" fill-opacity="0.6"/>
<text x="198.60" y="392.70" font-size="9.0" text-anchor="start" fill="#FF1A1A">FE<tspan font-size="7.20" dy="1.98">CO</tspan><tspan dy="-1.98">​</tspan></text>
<path d="M219,388.5 Q226,392.5 233.5,393.3" stroke="#FF1A1A" stroke-width="0.8" fill="none"/>
<polygon points="236,393.5 232.6,391.7 232.6,395.1" fill="#FF1A1A"/>
<polyline points="43.19,503.52 44.78,503.00 47.17,503.26 49.95,502.87 52.73,503.26 55.90,503.52 59.08,503.65 62.26,503.65 65.83,503.65 69.41,503.65 72.98,503.65 125.41,503.65 127.80,503.13 129.78,503.52 145.67,503.78 146.47,503.39 153.62,503.52 189.36,500.54 200.49,500.02 228.69,500.54" fill="none" stroke="#3A86CC" stroke-width="1.0" stroke-linejoin="round"/>
<circle cx="43.19" cy="503.52" r="2.6" fill="#3C88CE" stroke="#2E6FB0" stroke-width="0.4"/>
<circle cx="42.89" cy="502.82" r="0.83" fill="#fff" fill-opacity="0.6"/>
<circle cx="44.78" cy="503.00" r="2.6" fill="#3C88CE" stroke="#2E6FB0" stroke-width="0.4"/>
<circle cx="44.48" cy="502.30" r="0.83" fill="#fff" fill-opacity="0.6"/>
<circle cx="47.17" cy="503.26" r="2.6" fill="#3C88CE" stroke="#2E6FB0" stroke-width="0.4"/>
<circle cx="46.87" cy="502.56" r="0.83" fill="#fff" fill-opacity="0.6"/>
<circle cx="49.95" cy="502.87" r="2.6" fill="#3C88CE" stroke="#2E6FB0" stroke-width="0.4"/>
<circle cx="49.65" cy="502.17" r="0.83" fill="#fff" fill-opacity="0.6"/>
<circle cx="52.73" cy="503.26" r="2.6" fill="#3C88CE" stroke="#2E6FB0" stroke-width="0.4"/>
<circle cx="52.43" cy="502.56" r="0.83" fill="#fff" fill-opacity="0.6"/>
<circle cx="55.90" cy="503.52" r="2.6" fill="#3C88CE" stroke="#2E6FB0" stroke-width="0.4"/>
<circle cx="55.60" cy="502.82" r="0.83" fill="#fff" fill-opacity="0.6"/>
<circle cx="59.08" cy="503.65" r="2.6" fill="#3C88CE" stroke="#2E6FB0" stroke-width="0.4"/>
<circle cx="58.78" cy="502.95" r="0.83" fill="#fff" fill-opacity="0.6"/>
<circle cx="62.26" cy="503.65" r="2.6" fill="#3C88CE" stroke="#2E6FB0" stroke-width="0.4"/>
<circle cx="61.96" cy="502.95" r="0.83" fill="#fff" fill-opacity="0.6"/>
<circle cx="65.83" cy="503.65" r="2.6" fill="#3C88CE" stroke="#2E6FB0" stroke-width="0.4"/>
<circle cx="65.53" cy="502.95" r="0.83" fill="#fff" fill-opacity="0.6"/>
<circle cx="69.41" cy="503.65" r="2.6" fill="#3C88CE" stroke="#2E6FB0" stroke-width="0.4"/>
<circle cx="69.11" cy="502.95" r="0.83" fill="#fff" fill-opacity="0.6"/>
<circle cx="72.98" cy="503.65" r="2.6" fill="#3C88CE" stroke="#2E6FB0" stroke-width="0.4"/>
<circle cx="72.68" cy="502.95" r="0.83" fill="#fff" fill-opacity="0.6"/>
<circle cx="125.41" cy="503.65" r="2.6" fill="#3C88CE" stroke="#2E6FB0" stroke-width="0.4"/>
<circle cx="125.11" cy="502.95" r="0.83" fill="#fff" fill-opacity="0.6"/>
<circle cx="127.80" cy="503.13" r="2.6" fill="#3C88CE" stroke="#2E6FB0" stroke-width="0.4"/>
<circle cx="127.50" cy="502.43" r="0.83" fill="#fff" fill-opacity="0.6"/>
<circle cx="129.78" cy="503.52" r="2.6" fill="#3C88CE" stroke="#2E6FB0" stroke-width="0.4"/>
<circle cx="129.48" cy="502.82" r="0.83" fill="#fff" fill-opacity="0.6"/>
<circle cx="145.67" cy="503.78" r="2.6" fill="#3C88CE" stroke="#2E6FB0" stroke-width="0.4"/>
<circle cx="145.37" cy="503.08" r="0.83" fill="#fff" fill-opacity="0.6"/>
<circle cx="146.47" cy="503.39" r="2.6" fill="#3C88CE" stroke="#2E6FB0" stroke-width="0.4"/>
<circle cx="146.17" cy="502.69" r="0.83" fill="#fff" fill-opacity="0.6"/>
<circle cx="153.62" cy="503.52" r="2.6" fill="#3C88CE" stroke="#2E6FB0" stroke-width="0.4"/>
<circle cx="153.32" cy="502.82" r="0.83" fill="#fff" fill-opacity="0.6"/>
<circle cx="189.36" cy="500.54" r="2.6" fill="#3C88CE" stroke="#2E6FB0" stroke-width="0.4"/>
<circle cx="189.06" cy="499.84" r="0.83" fill="#fff" fill-opacity="0.6"/>
<circle cx="200.49" cy="500.02" r="2.6" fill="#3C88CE" stroke="#2E6FB0" stroke-width="0.4"/>
<circle cx="200.19" cy="499.32" r="0.83" fill="#fff" fill-opacity="0.6"/>
<circle cx="228.69" cy="500.54" r="2.6" fill="#3C88CE" stroke="#2E6FB0" stroke-width="0.4"/>
<circle cx="228.39" cy="499.84" r="0.83" fill="#fff" fill-opacity="0.6"/>
<text x="210.50" y="492.60" font-size="9.0" text-anchor="start" fill="#2B70B5">FE<tspan font-size="7.20" dy="1.98">H2</tspan><tspan dy="-1.98">​</tspan></text>
<path d="M201.5,488.6 Q210,478.5 227,476.6" stroke="#2B70B5" stroke-width="1.0" fill="none"/>
<polygon points="230.5,476.3 226.6,474.5 226.8,478.3" fill="#2B70B5"/>
<text x="47.20" y="465.70" font-size="8.2" text-anchor="start" fill="#000">NiPc-NH<tspan font-size="5.08" dy="1.80">2</tspan><tspan dy="-1.80">​</tspan>/CNT-SHP@150 mA cm<tspan font-size="5.08" dy="-2.95">-2</tspan><tspan dy="2.95">​</tspan></text>
<text x="47.20" y="477.80" font-size="8.2" text-anchor="start" fill="#000">0.5 M K<tspan font-size="5.08" dy="1.80">2</tspan><tspan dy="-1.80">​</tspan>SO<tspan font-size="5.08" dy="1.80">4</tspan><tspan dy="-1.80">​</tspan> + H<tspan font-size="5.08" dy="1.80">2</tspan><tspan dy="-1.80">​</tspan>SO<tspan font-size="5.08" dy="1.80">4</tspan><tspan dy="-1.80">​</tspan> (pH=1)</text>
<text x="275.30" y="375.40" font-size="14.5" text-anchor="start" fill="#000" font-weight="bold">h</text>
<rect x="310.45" y="382.41" width="9.2" height="127.79" fill="#66C6EE" stroke="#333" stroke-width="0.8"/>
<rect x="320.10" y="381.37" width="9.2" height="128.83" fill="#66C6EE" stroke="#333" stroke-width="0.8"/>
<rect x="349.06" y="381.37" width="9.2" height="128.83" fill="#66C6EE" stroke="#333" stroke-width="0.8"/>
<rect x="373.19" y="381.37" width="9.2" height="128.83" fill="#66C6EE" stroke="#333" stroke-width="0.8"/>
<rect x="397.32" y="380.33" width="9.2" height="129.87" fill="#66C6EE" stroke="#333" stroke-width="0.8"/>
<rect x="421.45" y="382.41" width="9.2" height="127.79" fill="#66C6EE" stroke="#333" stroke-width="0.8"/>
<line x1="305.40" y1="367.20" x2="435.30" y2="367.20" stroke="#222" stroke-width="1.1"/>
<line x1="305.40" y1="510.20" x2="435.30" y2="510.20" stroke="#222" stroke-width="1.1"/>
<line x1="305.40" y1="367.20" x2="305.40" y2="510.20" stroke="#2F6A95" stroke-width="1.2"/>
<line x1="435.30" y1="367.20" x2="435.30" y2="510.20" stroke="#FF4A4A" stroke-width="1.2"/>
<line x1="305.40" y1="510.20" x2="305.40" y2="513.60" stroke="#2e2e2e" stroke-width="1"/>
<line x1="329.53" y1="510.20" x2="329.53" y2="513.60" stroke="#2e2e2e" stroke-width="1"/>
<line x1="353.66" y1="510.20" x2="353.66" y2="513.60" stroke="#2e2e2e" stroke-width="1"/>
<line x1="377.79" y1="510.20" x2="377.79" y2="513.60" stroke="#2e2e2e" stroke-width="1"/>
<line x1="401.92" y1="510.20" x2="401.92" y2="513.60" stroke="#2e2e2e" stroke-width="1"/>
<line x1="426.05" y1="510.20" x2="426.05" y2="513.60" stroke="#2e2e2e" stroke-width="1"/>
<line x1="317.46" y1="510.20" x2="317.46" y2="512.20" stroke="#2e2e2e" stroke-width="1"/>
<line x1="341.59" y1="510.20" x2="341.59" y2="512.20" stroke="#2e2e2e" stroke-width="1"/>
<line x1="365.72" y1="510.20" x2="365.72" y2="512.20" stroke="#2e2e2e" stroke-width="1"/>
<line x1="389.85" y1="510.20" x2="389.85" y2="512.20" stroke="#2e2e2e" stroke-width="1"/>
<line x1="413.99" y1="510.20" x2="413.99" y2="512.20" stroke="#2e2e2e" stroke-width="1"/>
<text x="305.40" y="522.00" font-size="8.8" text-anchor="middle" fill="#000">0</text>
<text x="329.53" y="522.00" font-size="8.8" text-anchor="middle" fill="#000">5</text>
<text x="353.66" y="522.00" font-size="8.8" text-anchor="middle" fill="#000">10</text>
<text x="377.79" y="522.00" font-size="8.8" text-anchor="middle" fill="#000">15</text>
<text x="401.92" y="522.00" font-size="8.8" text-anchor="middle" fill="#000">20</text>
<text x="426.05" y="522.00" font-size="8.8" text-anchor="middle" fill="#000">25</text>
<line x1="305.40" y1="510.20" x2="302.00" y2="510.20" stroke="#2F6A95" stroke-width="1"/>
<line x1="305.40" y1="484.20" x2="302.00" y2="484.20" stroke="#2F6A95" stroke-width="1"/>
<line x1="305.40" y1="458.20" x2="302.00" y2="458.20" stroke="#2F6A95" stroke-width="1"/>
<line x1="305.40" y1="432.20" x2="302.00" y2="432.20" stroke="#2F6A95" stroke-width="1"/>
<line x1="305.40" y1="406.20" x2="302.00" y2="406.20" stroke="#2F6A95" stroke-width="1"/>
<line x1="305.40" y1="380.20" x2="302.00" y2="380.20" stroke="#2F6A95" stroke-width="1"/>
<line x1="305.40" y1="497.20" x2="303.40" y2="497.20" stroke="#2F6A95" stroke-width="1"/>
<line x1="305.40" y1="471.20" x2="303.40" y2="471.20" stroke="#2F6A95" stroke-width="1"/>
<line x1="305.40" y1="445.20" x2="303.40" y2="445.20" stroke="#2F6A95" stroke-width="1"/>
<line x1="305.40" y1="419.20" x2="303.40" y2="419.20" stroke="#2F6A95" stroke-width="1"/>
<line x1="305.40" y1="393.20" x2="303.40" y2="393.20" stroke="#2F6A95" stroke-width="1"/>
<text x="300.00" y="512.60" font-size="8.8" text-anchor="end" fill="#2F6A95">0</text>
<text x="300.00" y="486.60" font-size="8.8" text-anchor="end" fill="#2F6A95">20</text>
<text x="300.00" y="460.60" font-size="8.8" text-anchor="end" fill="#2F6A95">40</text>
<text x="300.00" y="434.60" font-size="8.8" text-anchor="end" fill="#2F6A95">60</text>
<text x="300.00" y="408.60" font-size="8.8" text-anchor="end" fill="#2F6A95">80</text>
<text x="300.00" y="382.60" font-size="8.8" text-anchor="end" fill="#2F6A95">100</text>
<line x1="432.30" y1="510.20" x2="435.30" y2="510.20" stroke="#FF4A4A" stroke-width="1"/>
<text x="438.90" y="512.80" font-size="8.4" text-anchor="start" fill="#FF1A1A">0</text>
<line x1="432.30" y1="478.40" x2="435.30" y2="478.40" stroke="#FF4A4A" stroke-width="1"/>
<text x="438.90" y="481.00" font-size="8.4" text-anchor="start" fill="#FF1A1A">20</text>
<line x1="432.30" y1="446.60" x2="435.30" y2="446.60" stroke="#FF4A4A" stroke-width="1"/>
<text x="438.90" y="449.20" font-size="8.4" text-anchor="start" fill="#FF1A1A">40</text>
<line x1="432.30" y1="414.80" x2="435.30" y2="414.80" stroke="#FF4A4A" stroke-width="1"/>
<text x="438.90" y="417.40" font-size="8.4" text-anchor="start" fill="#FF1A1A">60</text>
<line x1="432.30" y1="383.00" x2="435.30" y2="383.00" stroke="#FF4A4A" stroke-width="1"/>
<text x="438.90" y="385.60" font-size="8.4" text-anchor="start" fill="#FF1A1A">80</text>
<line x1="433.30" y1="494.30" x2="435.30" y2="494.30" stroke="#FF4A4A" stroke-width="1"/>
<line x1="433.30" y1="462.50" x2="435.30" y2="462.50" stroke="#FF4A4A" stroke-width="1"/>
<line x1="433.30" y1="430.70" x2="435.30" y2="430.70" stroke="#FF4A4A" stroke-width="1"/>
<line x1="433.30" y1="398.90" x2="435.30" y2="398.90" stroke="#FF4A4A" stroke-width="1"/>
<text x="284.00" y="440.20" font-size="8.9" text-anchor="middle" fill="#2F6A95" transform="rotate(-90 284.00 440.20)">FE<tspan font-size="5.52" dy="1.96">CO</tspan><tspan dy="-1.96">​</tspan> (%)</text>
<text x="460.00" y="440.50" font-size="8.9" text-anchor="middle" fill="#FF1A1A" transform="rotate(-90 460.00 440.50)">CO<tspan font-size="5.52" dy="1.96">2</tspan><tspan dy="-1.96">​</tspan> utilization efficiency (%)</text>
<text x="374.60" y="532.20" font-size="8.9" text-anchor="middle" fill="#000">CO<tspan font-size="5.52" dy="1.96">2</tspan><tspan dy="-1.96">​</tspan> flow rate (sccm)</text>
<polyline points="315.05,389.26 316.26,395.74 317.46,401.85 318.67,407.61 319.88,413.03 321.08,418.14 322.29,422.96 323.50,427.49 324.70,431.77 325.91,435.79 327.12,439.59 328.32,443.16 329.53,446.53 330.74,449.71 331.94,452.70 333.15,455.51 334.36,458.17 335.56,460.67 336.77,463.03 337.98,465.25 339.18,467.34 340.39,469.31 341.59,471.17 342.80,472.92 344.01,474.57 345.21,476.12 346.42,477.59 347.63,478.96 348.83,480.26 350.04,481.49 351.25,482.64 352.45,483.73 353.66,484.75 354.87,485.72 356.07,486.63 357.28,487.49 358.49,488.29 359.69,489.05 360.90,489.77 362.11,490.45 363.31,491.08 364.52,491.68 365.72,492.25 366.93,492.78 368.14,493.28 369.34,493.75 370.55,494.20 371.76,494.62 372.96,495.01 374.17,495.38 375.38,495.73 376.58,496.07 377.79,496.38 379.00,496.67 380.20,496.95 381.41,497.21 382.62,497.45 383.82,497.68 385.03,497.90 386.24,498.11 387.44,498.30 388.65,498.48 389.85,498.65 391.06,498.82 392.27,498.97 393.47,499.11 394.68,499.25 395.89,499.38 397.09,499.50 398.30,499.61 399.51,499.72 400.71,499.82 401.92,499.91 403.13,500.00 404.33,500.08 405.54,500.16 406.75,500.24 407.95,500.31 409.16,500.37 410.37,500.44 411.57,500.50 412.78,500.55 413.99,500.60 415.19,500.65 416.40,500.70 417.60,500.74 418.81,500.78 420.02,500.82 421.22,500.86 422.43,500.89 423.64,500.93 424.84,500.96 426.05,500.99 427.26,501.01 428.46,501.04 429.67,501.06 430.88,501.08" fill="none" stroke="#FF1A1A" stroke-width="1.0" stroke-linejoin="round"/>
<circle cx="315.05" cy="389.68" r="2.6" fill="#F02020" stroke="#FF6060" stroke-width="0.4"/>
<circle cx="314.75" cy="388.98" r="0.83" fill="#fff" fill-opacity="0.6"/>
<circle cx="324.70" cy="449.94" r="2.6" fill="#F02020" stroke="#FF6060" stroke-width="0.4"/>
<circle cx="324.40" cy="449.24" r="0.83" fill="#fff" fill-opacity="0.6"/>
<circle cx="353.66" cy="486.35" r="2.6" fill="#F02020" stroke="#FF6060" stroke-width="0.4"/>
<circle cx="353.36" cy="485.65" r="0.83" fill="#fff" fill-opacity="0.6"/>
<circle cx="377.79" cy="494.62" r="2.6" fill="#F02020" stroke="#FF6060" stroke-width="0.4"/>
<circle cx="377.49" cy="493.92" r="0.83" fill="#fff" fill-opacity="0.6"/>
<circle cx="401.92" cy="498.27" r="2.6" fill="#F02020" stroke="#FF6060" stroke-width="0.4"/>
<circle cx="401.62" cy="497.57" r="0.83" fill="#fff" fill-opacity="0.6"/>
<circle cx="426.05" cy="500.66" r="2.6" fill="#F02020" stroke="#FF6060" stroke-width="0.4"/>
<circle cx="425.75" cy="499.96" r="0.83" fill="#fff" fill-opacity="0.6"/>
<path d="M320.3,381.2 Q317,377.6 311.5,378.0" stroke="#111" stroke-width="0.9" fill="none"/>
<polygon points="308.6,378.3 312.2,376.4 312.2,380.0" fill="#111"/>
<path d="M400.1,494.4 Q406,490.6 429,489.0" stroke="#FF1A1A" stroke-width="0.9" fill="none"/>
<polygon points="432.5,488.8 428.6,487.0 428.8,490.6" fill="#FF1A1A"/>
<text x="473.30" y="376.20" font-size="14.5" text-anchor="start" fill="#000" font-weight="bold">i</text>
<rect x="499.90" y="367.60" width="177.90" height="142.10" fill="none" stroke="#2e2e2e" stroke-width="1.25"/>
<line x1="499.90" y1="509.70" x2="499.90" y2="513.10" stroke="#2e2e2e" stroke-width="1"/>
<line x1="527.25" y1="509.70" x2="527.25" y2="513.10" stroke="#2e2e2e" stroke-width="1"/>
<line x1="554.60" y1="509.70" x2="554.60" y2="513.10" stroke="#2e2e2e" stroke-width="1"/>
<line x1="581.95" y1="509.70" x2="581.95" y2="513.10" stroke="#2e2e2e" stroke-width="1"/>
<line x1="609.30" y1="509.70" x2="609.30" y2="513.10" stroke="#2e2e2e" stroke-width="1"/>
<line x1="636.65" y1="509.70" x2="636.65" y2="513.10" stroke="#2e2e2e" stroke-width="1"/>
<line x1="664.00" y1="509.70" x2="664.00" y2="513.10" stroke="#2e2e2e" stroke-width="1"/>
<line x1="513.57" y1="509.70" x2="513.57" y2="511.70" stroke="#2e2e2e" stroke-width="1"/>
<line x1="540.92" y1="509.70" x2="540.92" y2="511.70" stroke="#2e2e2e" stroke-width="1"/>
<line x1="568.27" y1="509.70" x2="568.27" y2="511.70" stroke="#2e2e2e" stroke-width="1"/>
<line x1="595.62" y1="509.70" x2="595.62" y2="511.70" stroke="#2e2e2e" stroke-width="1"/>
<line x1="622.98" y1="509.70" x2="622.98" y2="511.70" stroke="#2e2e2e" stroke-width="1"/>
<line x1="650.33" y1="509.70" x2="650.33" y2="511.70" stroke="#2e2e2e" stroke-width="1"/>
<line x1="677.67" y1="509.70" x2="677.67" y2="511.70" stroke="#2e2e2e" stroke-width="1"/>
<text x="499.90" y="521.60" font-size="8.8" text-anchor="middle" fill="#000">0</text>
<text x="527.25" y="521.60" font-size="8.8" text-anchor="middle" fill="#000">-100</text>
<text x="554.60" y="521.60" font-size="8.8" text-anchor="middle" fill="#000">-200</text>
<text x="581.95" y="521.60" font-size="8.8" text-anchor="middle" fill="#000">-300</text>
<text x="609.30" y="521.60" font-size="8.8" text-anchor="middle" fill="#000">-400</text>
<text x="636.65" y="521.60" font-size="8.8" text-anchor="middle" fill="#000">-500</text>
<text x="664.00" y="521.60" font-size="8.8" text-anchor="middle" fill="#000">-600</text>
<line x1="499.90" y1="505.70" x2="496.50" y2="505.70" stroke="#2e2e2e" stroke-width="1"/>
<line x1="499.90" y1="471.18" x2="496.50" y2="471.18" stroke="#2e2e2e" stroke-width="1"/>
<line x1="499.90" y1="436.65" x2="496.50" y2="436.65" stroke="#2e2e2e" stroke-width="1"/>
<line x1="499.90" y1="402.13" x2="496.50" y2="402.13" stroke="#2e2e2e" stroke-width="1"/>
<line x1="499.90" y1="367.60" x2="496.50" y2="367.60" stroke="#2e2e2e" stroke-width="1"/>
<line x1="499.90" y1="488.44" x2="497.90" y2="488.44" stroke="#2e2e2e" stroke-width="1"/>
<line x1="499.90" y1="453.92" x2="497.90" y2="453.92" stroke="#2e2e2e" stroke-width="1"/>
<line x1="499.90" y1="419.39" x2="497.90" y2="419.39" stroke="#2e2e2e" stroke-width="1"/>
<line x1="499.90" y1="384.86" x2="497.90" y2="384.86" stroke="#2e2e2e" stroke-width="1"/>
<text x="494.50" y="508.10" font-size="8.8" text-anchor="end" fill="#000">40</text>
<text x="494.50" y="473.58" font-size="8.8" text-anchor="end" fill="#000">60</text>
<text x="494.50" y="439.05" font-size="8.8" text-anchor="end" fill="#000">80</text>
<text x="494.50" y="404.53" font-size="8.8" text-anchor="end" fill="#000">100</text>
<text x="494.50" y="370.00" font-size="8.8" text-anchor="end" fill="#000">120</text>
<text x="588.70" y="531.80" font-size="8.9" text-anchor="middle" fill="#000">Current density (mA cm<tspan font-size="5.52" dy="-3.20">-2</tspan><tspan dy="3.20">​</tspan>)</text>
<text x="478.50" y="435.10" font-size="8.8" text-anchor="middle" fill="#000" transform="rotate(-90 478.50 435.10)">FE<tspan font-size="5.46" dy="1.94">CO</tspan><tspan dy="-1.94">​</tspan> (%)</text>
<polyline points="513.57,408.17 527.25,405.06 540.92,405.23 554.60,402.99 568.27,403.51 581.95,402.64 595.62,403.85 609.30,404.20 636.65,427.68" fill="none" stroke="#3A80C2" stroke-width="1.1" stroke-linejoin="round"/>
<circle cx="513.57" cy="408.17" r="2.5" fill="white" stroke="#3A80C2" stroke-width="1.1"/>
<circle cx="527.25" cy="405.06" r="2.5" fill="white" stroke="#3A80C2" stroke-width="1.1"/>
<circle cx="540.92" cy="405.23" r="2.5" fill="white" stroke="#3A80C2" stroke-width="1.1"/>
<circle cx="554.60" cy="402.99" r="2.5" fill="white" stroke="#3A80C2" stroke-width="1.1"/>
<circle cx="568.27" cy="403.51" r="2.5" fill="white" stroke="#3A80C2" stroke-width="1.1"/>
<circle cx="581.95" cy="402.64" r="2.5" fill="white" stroke="#3A80C2" stroke-width="1.1"/>
<circle cx="595.62" cy="403.85" r="2.5" fill="white" stroke="#3A80C2" stroke-width="1.1"/>
<circle cx="609.30" cy="404.20" r="2.5" fill="white" stroke="#3A80C2" stroke-width="1.1"/>
<circle cx="636.65" cy="427.68" r="2.5" fill="white" stroke="#3A80C2" stroke-width="1.1"/>
<polygon points="564.10,405.60 569.88,401.97 569.88,409.23" fill="#D39B1C" stroke="#D39B1C" stroke-width="0.5" stroke-linejoin="miter"/>
<circle cx="609.30" cy="404.54" r="3.1" fill="#2E9B3A" stroke="#2E9B3A" stroke-width="0.6"/>
<circle cx="664.00" cy="412.48" r="2.5" fill="white" stroke="#3A80C2" stroke-width="1.1"/>
<polygon points="527.00,436.60 530.52,442.20 523.48,442.20" fill="#A8622E" stroke="#A8622E" stroke-width="0.5" stroke-linejoin="miter"/>
<polygon points="587.20,434.00 590.50,437.30 587.20,440.60 583.90,437.30" fill="#5E2D91" stroke="#5E2D91" stroke-width="0.8"/>
<polygon points="591.50,445.50 585.73,441.87 585.73,449.13" fill="#19C6D4" stroke="#19C6D4" stroke-width="0.5" stroke-linejoin="miter"/>
<polygon points="527.40,504.70 531.03,498.92 523.77,498.92" fill="#35A460" stroke="#35A460" stroke-width="0.5" stroke-linejoin="miter"/>
<text x="504.20" y="380.70" font-size="8.1" text-anchor="start" fill="#3A80C2">This work</text>
<text x="503.70" y="392.40" font-size="8.1" text-anchor="start" fill="#3A80C2">(1 M K<tspan font-size="5.02" dy="-2.92">+</tspan><tspan dy="2.92">​</tspan>, pH=1)</text>
<text x="562.30" y="380.90" font-size="8.1" text-anchor="start" fill="#2E9B3A">NiPc-OMe MDE [32]</text>
<text x="565.00" y="392.20" font-size="8.1" text-anchor="start" fill="#2E9B3A">(~1 M K<tspan font-size="5.02" dy="-2.92">+</tspan><tspan dy="2.92">​</tspan>, pH=1)</text>
<text x="641.80" y="385.50" font-size="8.1" text-anchor="start" fill="#3A80C2">This work</text>
<text x="641.80" y="396.60" font-size="8.1" text-anchor="start" fill="#3A80C2">(3 M K<tspan font-size="5.02" dy="-2.92">+</tspan><tspan dy="2.92">​</tspan>,</text>
<text x="641.80" y="406.60" font-size="8.1" text-anchor="start" fill="#3A80C2">pH=0.4)</text>
<text x="528.70" y="416.90" font-size="8.1" text-anchor="start" fill="#A8622E">Ni-N-C-PTFE [19]</text>
<text x="528.50" y="427.40" font-size="8.1" text-anchor="start" fill="#A8622E">(2 M Cs<tspan font-size="5.02" dy="-2.92">+</tspan><tspan dy="2.92">​</tspan>, pH=2)</text>
<text x="513.60" y="451.70" font-size="8.1" text-anchor="start" fill="#A8622E">Au [21]</text>
<text x="513.60" y="463.60" font-size="8.1" text-anchor="start" fill="#A8622E">(2 M Cs<tspan font-size="5.02" dy="-2.92">+</tspan><tspan dy="2.92">​</tspan>, pH=2)</text>
<text x="595.20" y="440.80" font-size="8.1" text-anchor="start" fill="#7A3FA6">NiNF-1100 [33]</text>
<text x="595.20" y="452.70" font-size="8.1" text-anchor="start" fill="#7A3FA6">(0.5 M K<tspan font-size="5.02" dy="-2.92">+</tspan><tspan dy="2.92">​</tspan>, pH=2)</text>
<text x="582.90" y="465.10" font-size="8.1" text-anchor="start" fill="#1B7F8A">NiTAAPc@CNT-12 [24]</text>
<text x="582.90" y="476.40" font-size="8.1" text-anchor="start" fill="#1B7F8A">(3 M K<tspan font-size="5.02" dy="-2.92">+</tspan><tspan dy="2.92">​</tspan>, pH=1)</text>
<text x="515.90" y="494.90" font-size="8.7" text-anchor="start" fill="#3C8A3E">Ag [34] (1 M K<tspan font-size="5.39" dy="-3.13">+</tspan><tspan dy="3.13">​</tspan>, pH=2-5)</text>
</svg>
</body></html>
